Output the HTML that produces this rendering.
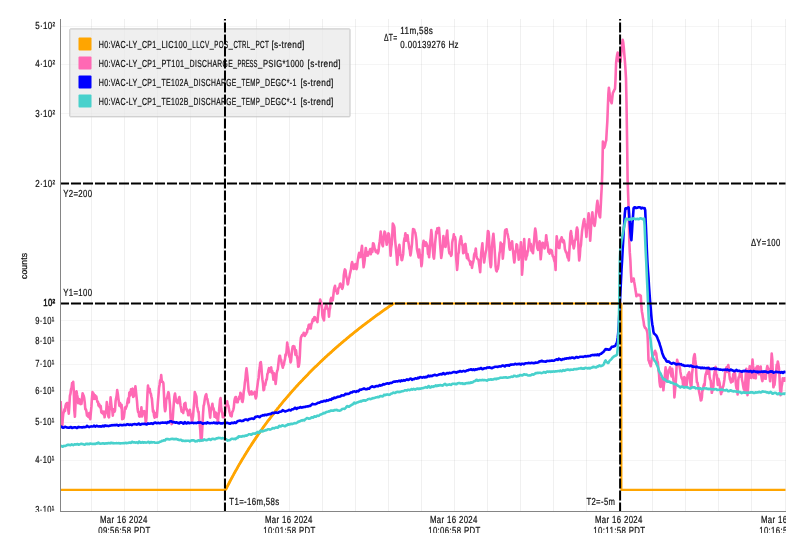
<!DOCTYPE html><html><head><meta charset="utf-8"><title>plot</title>
<style>html,body{margin:0;padding:0;background:#fff;overflow:hidden}svg{display:block}text{font-family:"Liberation Sans",sans-serif;fill:#111;text-rendering:geometricPrecision;stroke:#111;stroke-width:0.22px}</style></head><body>
<svg width="804" height="551" viewBox="0 0 804 551">
<defs><clipPath id="pc"><rect x="61.0" y="19.0" width="724.5" height="492.5"/></clipPath>
<clipPath id="wc"><rect x="0" y="0" width="785.6" height="532.6"/></clipPath><clipPath id="ytc"><rect x="0" y="0" width="60" height="511.8"/></clipPath></defs>
<rect width="804" height="551" fill="#fff"/>
<g clip-path="url(#wc)" style="will-change:transform">
<g stroke="#000" stroke-opacity="0.06" stroke-width="1" shape-rendering="crispEdges">
<line x1="91.5" y1="19.0" x2="91.5" y2="511.0"/>
<line x1="124.5" y1="19.0" x2="124.5" y2="511.0"/>
<line x1="157.5" y1="19.0" x2="157.5" y2="511.0"/>
<line x1="190.5" y1="19.0" x2="190.5" y2="511.0"/>
<line x1="223.5" y1="19.0" x2="223.5" y2="511.0"/>
<line x1="256.5" y1="19.0" x2="256.5" y2="511.0"/>
<line x1="289.5" y1="19.0" x2="289.5" y2="511.0"/>
<line x1="322.5" y1="19.0" x2="322.5" y2="511.0"/>
<line x1="355.5" y1="19.0" x2="355.5" y2="511.0"/>
<line x1="388.5" y1="19.0" x2="388.5" y2="511.0"/>
<line x1="421.5" y1="19.0" x2="421.5" y2="511.0"/>
<line x1="454.5" y1="19.0" x2="454.5" y2="511.0"/>
<line x1="487.5" y1="19.0" x2="487.5" y2="511.0"/>
<line x1="520.5" y1="19.0" x2="520.5" y2="511.0"/>
<line x1="553.5" y1="19.0" x2="553.5" y2="511.0"/>
<line x1="586.5" y1="19.0" x2="586.5" y2="511.0"/>
<line x1="619.5" y1="19.0" x2="619.5" y2="511.0"/>
<line x1="652.5" y1="19.0" x2="652.5" y2="511.0"/>
<line x1="685.5" y1="19.0" x2="685.5" y2="511.0"/>
<line x1="718.5" y1="19.0" x2="718.5" y2="511.0"/>
<line x1="751.5" y1="19.0" x2="751.5" y2="511.0"/>
<line x1="785.5" y1="19.0" x2="785.5" y2="511.0"/>
</g>
<g stroke="#000" stroke-opacity="0.04" stroke-width="1" shape-rendering="crispEdges">
<line x1="61.0" y1="26.5" x2="785.5" y2="26.5"/>
<line x1="61.0" y1="64.5" x2="785.5" y2="64.5"/>
<line x1="61.0" y1="113.5" x2="785.5" y2="113.5"/>
<line x1="61.0" y1="183.5" x2="785.5" y2="183.5"/>
<line x1="61.0" y1="303.5" x2="785.5" y2="303.5"/>
<line x1="61.0" y1="320.5" x2="785.5" y2="320.5"/>
<line x1="61.0" y1="340.5" x2="785.5" y2="340.5"/>
<line x1="61.0" y1="364.5" x2="785.5" y2="364.5"/>
<line x1="61.0" y1="390.5" x2="785.5" y2="390.5"/>
<line x1="61.0" y1="422.5" x2="785.5" y2="422.5"/>
<line x1="61.0" y1="460.5" x2="785.5" y2="460.5"/>
</g>
<g clip-path="url(#pc)" fill="none" stroke-width="2" stroke-linejoin="round" stroke-linecap="butt">
<path d="M60.0,489.9 L225.6,489.9 L225.6,489.9 L226.6,487.9 L227.6,485.9 L228.6,484.0 L229.6,482.0 L230.6,480.1 L231.6,478.3 L232.6,476.4 L233.6,474.6 L234.6,472.7 L235.6,470.9 L236.6,469.2 L237.6,467.4 L238.6,465.6 L239.6,463.9 L240.6,462.2 L241.6,460.5 L242.6,458.8 L243.6,457.2 L244.6,455.5 L245.6,453.9 L246.6,452.3 L247.6,450.7 L248.6,449.1 L249.6,447.5 L250.6,446.0 L251.6,444.4 L252.6,442.9 L253.6,441.4 L254.6,439.9 L255.6,438.4 L256.6,436.9 L257.6,435.4 L258.6,434.0 L259.6,432.6 L260.6,431.1 L261.6,429.7 L262.6,428.3 L263.6,426.9 L264.6,425.5 L265.6,424.2 L266.6,422.8 L267.6,421.4 L268.6,420.1 L269.6,418.8 L270.6,417.5 L271.6,416.2 L272.6,414.9 L273.6,413.6 L274.6,412.3 L275.6,411.0 L276.6,409.8 L277.6,408.5 L278.6,407.3 L279.6,406.0 L280.6,404.8 L281.6,403.6 L282.6,402.4 L283.6,401.2 L284.6,400.0 L285.6,398.8 L286.6,397.6 L287.6,396.5 L288.6,395.3 L289.6,394.2 L290.6,393.0 L291.6,391.9 L292.6,390.7 L293.6,389.6 L294.6,388.5 L295.6,387.4 L296.6,386.3 L297.6,385.2 L298.6,384.1 L299.6,383.1 L300.6,382.0 L301.6,380.9 L302.6,379.9 L303.6,378.8 L304.6,377.8 L305.6,376.7 L306.6,375.7 L307.6,374.7 L308.6,373.6 L309.6,372.6 L310.6,371.6 L311.6,370.6 L312.6,369.6 L313.6,368.6 L314.6,367.6 L315.6,366.6 L316.6,365.7 L317.6,364.7 L318.6,363.7 L319.6,362.8 L320.6,361.8 L321.6,360.9 L322.6,359.9 L323.6,359.0 L324.6,358.1 L325.6,357.1 L326.6,356.2 L327.6,355.3 L328.6,354.4 L329.6,353.5 L330.6,352.6 L331.6,351.7 L332.6,350.8 L333.6,349.9 L334.6,349.0 L335.6,348.1 L336.6,347.2 L337.6,346.4 L338.6,345.5 L339.6,344.6 L340.6,343.8 L341.6,342.9 L342.6,342.1 L343.6,341.2 L344.6,340.4 L345.6,339.6 L346.6,338.7 L347.6,337.9 L348.6,337.1 L349.6,336.2 L350.6,335.4 L351.6,334.6 L352.6,333.8 L353.6,333.0 L354.6,332.2 L355.6,331.4 L356.6,330.6 L357.6,329.8 L358.6,329.0 L359.6,328.2 L360.6,327.5 L361.6,326.7 L362.6,325.9 L363.6,325.1 L364.6,324.4 L365.6,323.6 L366.6,322.8 L367.6,322.1 L368.6,321.3 L369.6,320.6 L370.6,319.8 L371.6,319.1 L372.6,318.4 L373.6,317.6 L374.6,316.9 L375.6,316.2 L376.6,315.4 L377.6,314.7 L378.6,314.0 L379.6,313.3 L380.6,312.5 L381.6,311.8 L382.6,311.1 L383.6,310.4 L384.6,309.7 L385.6,309.0 L386.6,308.3 L387.6,307.6 L388.6,306.9 L389.6,306.2 L390.6,305.5 L391.6,304.9 L392.6,304.2 L393.6,303.5 L393.6,303.5 L621.4,303.5 L621.4,489.9 L787.0,489.9" stroke="#FFA500" stroke-width="2.1"/>
<path d="M225.6,489.9 L225.6,489.9 L226.6,487.9 L227.6,485.9 L228.6,484.0 L229.6,482.0 L230.6,480.1 L231.6,478.3 L232.6,476.4 L233.6,474.6 L234.6,472.7 L235.6,470.9 L236.6,469.2 L237.6,467.4 L238.6,465.6 L239.6,463.9 L240.6,462.2 L241.6,460.5 L242.6,458.8 L243.6,457.2 L244.6,455.5 L245.6,453.9 L246.6,452.3 L247.6,450.7 L248.6,449.1 L249.6,447.5 L250.6,446.0 L251.6,444.4 L252.6,442.9 L253.6,441.4 L254.6,439.9 L255.6,438.4 L256.6,436.9 L257.6,435.4 L258.6,434.0 L259.6,432.6 L260.6,431.1 L261.6,429.7 L262.6,428.3 L263.6,426.9 L264.6,425.5 L265.6,424.2 L266.6,422.8 L267.6,421.4 L268.6,420.1 L269.6,418.8 L270.6,417.5 L271.6,416.2 L272.6,414.9 L273.6,413.6 L274.6,412.3 L275.6,411.0 L276.6,409.8 L277.6,408.5 L278.6,407.3 L279.6,406.0 L280.6,404.8 L281.6,403.6 L282.6,402.4 L283.6,401.2 L284.6,400.0 L285.6,398.8 L286.6,397.6 L287.6,396.5 L288.6,395.3 L289.6,394.2 L290.6,393.0 L291.6,391.9 L292.6,390.7 L293.6,389.6 L294.6,388.5 L295.6,387.4 L296.6,386.3 L297.6,385.2 L298.6,384.1 L299.6,383.1 L300.6,382.0 L301.6,380.9 L302.6,379.9 L303.6,378.8 L304.6,377.8 L305.6,376.7 L306.6,375.7 L307.6,374.7 L308.6,373.6 L309.6,372.6 L310.6,371.6 L311.6,370.6 L312.6,369.6 L313.6,368.6 L314.6,367.6 L315.6,366.6 L316.6,365.7 L317.6,364.7 L318.6,363.7 L319.6,362.8 L320.6,361.8 L321.6,360.9 L322.6,359.9 L323.6,359.0 L324.6,358.1 L325.6,357.1 L326.6,356.2 L327.6,355.3 L328.6,354.4 L329.6,353.5 L330.6,352.6 L331.6,351.7 L332.6,350.8 L333.6,349.9 L334.6,349.0 L335.6,348.1 L336.6,347.2 L337.6,346.4 L338.6,345.5 L339.6,344.6 L340.6,343.8 L341.6,342.9 L342.6,342.1 L343.6,341.2 L344.6,340.4 L345.6,339.6 L346.6,338.7 L347.6,337.9 L348.6,337.1 L349.6,336.2 L350.6,335.4 L351.6,334.6 L352.6,333.8 L353.6,333.0 L354.6,332.2 L355.6,331.4 L356.6,330.6 L357.6,329.8 L358.6,329.0 L359.6,328.2 L360.6,327.5 L361.6,326.7 L362.6,325.9 L363.6,325.1 L364.6,324.4 L365.6,323.6 L366.6,322.8 L367.6,322.1 L368.6,321.3 L369.6,320.6 L370.6,319.8 L371.6,319.1 L372.6,318.4 L373.6,317.6 L374.6,316.9 L375.6,316.2 L376.6,315.4 L377.6,314.7 L378.6,314.0 L379.6,313.3 L380.6,312.5 L381.6,311.8 L382.6,311.1 L383.6,310.4 L384.6,309.7 L385.6,309.0 L386.6,308.3 L387.6,307.6 L388.6,306.9 L389.6,306.2 L390.6,305.5 L391.6,304.9 L392.6,304.2 L393.6,303.5 L393.6,303.5" stroke="#FFA500" stroke-width="2.8"/>
<path d="M60.6,401.1 L61.1,409.7 L61.7,421.1 L62.2,426.6 L62.8,418.3 L63.3,413.4 L63.9,412.2 L64.4,409.4 L65.0,410.8 L65.5,405.8 L66.1,404.0 L66.6,403.5 L67.2,402.9 L67.7,405.8 L68.3,410.1 L68.8,413.7 L69.4,404.8 L69.9,395.8 L70.5,393.6 L71.0,389.5 L71.6,387.6 L72.1,383.1 L72.7,383.7 L73.2,381.8 L73.8,391.3 L74.3,410.2 L74.9,416.8 L75.4,406.7 L76.0,392.7 L76.5,391.3 L77.1,395.0 L77.6,397.3 L78.2,403.1 L78.7,399.8 L79.3,399.2 L79.8,403.3 L80.4,404.0 L80.9,403.3 L81.5,403.9 L82.0,398.5 L82.6,393.4 L83.1,394.5 L83.7,395.9 L84.2,398.1 L84.8,403.0 L85.3,409.2 L85.9,409.2 L86.4,411.2 L87.0,415.5 L87.5,415.7 L88.1,416.6 L88.6,417.1 L89.2,413.1 L89.7,416.2 L90.3,419.2 L90.8,413.1 L91.4,406.7 L91.9,398.9 L92.5,392.1 L93.0,395.2 L93.6,393.5 L94.1,398.9 L94.7,395.0 L95.2,395.4 L95.8,398.7 L96.3,396.5 L96.9,399.8 L97.4,402.0 L98.0,401.9 L98.5,405.6 L99.1,403.9 L99.6,406.7 L100.2,407.5 L100.7,405.9 L101.3,412.0 L101.8,412.9 L102.4,411.4 L102.9,413.3 L103.5,414.1 L104.0,411.5 L104.6,417.3 L105.1,413.5 L105.7,412.5 L106.2,411.3 L106.8,402.1 L107.3,406.1 L107.9,414.0 L108.4,416.6 L109.0,417.3 L109.5,409.8 L110.1,405.2 L110.6,397.4 L111.2,403.4 L111.7,408.1 L112.3,410.5 L112.8,415.7 L113.4,409.4 L113.9,411.8 L114.5,411.7 L115.0,410.5 L115.6,401.1 L116.1,398.6 L116.7,395.1 L117.2,390.1 L117.8,393.7 L118.3,397.9 L118.9,402.2 L119.4,405.8 L120.0,402.9 L120.5,405.1 L121.1,407.6 L121.6,404.8 L122.2,419.2 L122.7,417.7 L123.3,418.6 L123.8,417.7 L124.4,412.8 L124.9,407.6 L125.5,409.1 L126.0,407.5 L126.6,406.3 L127.1,404.2 L127.7,400.4 L128.2,398.2 L128.8,402.4 L129.3,392.9 L129.9,392.1 L130.4,395.4 L131.0,389.2 L131.5,392.7 L132.1,389.9 L132.6,388.7 L133.2,396.9 L133.7,396.3 L134.3,394.4 L134.8,392.6 L135.4,386.3 L135.9,390.9 L136.5,396.7 L137.0,401.2 L137.6,409.1 L138.1,411.9 L138.7,412.1 L139.2,416.3 L139.8,416.6 L140.3,413.2 L140.9,412.1 L141.4,407.3 L142.0,416.4 L142.5,414.1 L143.1,411.9 L143.6,412.6 L144.2,411.1 L144.7,412.2 L145.3,417.5 L145.8,423.2 L146.4,418.6 L146.9,406.6 L147.5,393.1 L148.0,385.6 L148.6,390.7 L149.1,389.4 L149.7,388.9 L150.2,392.7 L150.8,393.6 L151.3,396.2 L151.9,398.9 L152.4,404.8 L153.0,411.7 L153.5,410.4 L154.1,416.0 L154.6,417.7 L155.2,413.1 L155.7,415.5 L156.3,414.2 L156.8,417.0 L157.4,409.1 L157.9,402.0 L158.5,394.9 L159.0,388.1 L159.6,384.5 L160.1,380.3 L160.7,380.8 L161.2,375.1 L161.8,381.6 L162.3,381.6 L162.9,382.1 L163.4,383.3 L164.0,395.0 L164.5,406.4 L165.1,411.3 L165.6,409.1 L166.2,400.2 L166.7,398.5 L167.3,397.0 L167.8,394.5 L168.4,392.2 L168.9,394.1 L169.5,400.1 L170.0,405.2 L170.6,418.1 L171.1,421.6 L171.7,424.1 L172.2,423.3 L172.8,417.6 L173.3,409.7 L173.9,402.1 L174.4,396.6 L175.0,393.5 L175.5,397.0 L176.1,401.3 L176.6,401.4 L177.2,402.7 L177.7,403.1 L178.3,400.3 L178.8,398.5 L179.4,397.0 L179.9,400.4 L180.5,405.7 L181.0,407.8 L181.6,411.6 L182.1,410.8 L182.7,410.7 L183.2,413.1 L183.8,409.0 L184.3,404.0 L184.9,403.1 L185.4,402.9 L186.0,409.1 L186.5,408.7 L187.1,410.9 L187.6,411.1 L188.2,415.3 L188.7,411.7 L189.3,411.1 L189.8,409.8 L190.4,413.6 L190.9,416.0 L191.5,417.8 L192.0,422.2 L192.6,418.8 L193.1,415.7 L193.7,407.5 L194.2,402.0 L194.8,392.1 L195.3,393.8 L195.9,395.2 L196.4,396.9 L197.0,406.8 L197.5,408.0 L198.1,411.9 L198.6,411.8 L199.2,419.9 L199.7,423.9 L200.3,430.5 L200.8,440.1 L201.4,440.7 L201.9,436.2 L202.5,424.3 L203.0,414.5 L203.6,405.8 L204.1,404.5 L204.7,399.9 L205.2,396.9 L205.8,394.9 L206.3,394.2 L206.9,398.9 L207.4,399.0 L208.0,402.6 L208.5,404.6 L209.1,408.0 L209.6,412.4 L210.2,417.6 L210.7,411.2 L211.3,409.5 L211.8,407.0 L212.4,403.7 L212.9,408.0 L213.5,408.2 L214.0,410.5 L214.6,416.8 L215.1,416.5 L215.7,412.5 L216.2,417.6 L216.8,413.5 L217.3,417.4 L217.9,421.9 L218.4,416.4 L219.0,411.2 L219.5,405.8 L220.1,399.6 L220.6,398.1 L221.2,408.3 L221.7,411.5 L222.3,412.9 L222.8,417.3 L223.4,414.8 L223.9,417.1 L224.5,414.0 L225.0,413.1 L225.6,407.3 L226.1,404.6 L226.7,404.4 L227.2,401.4 L227.8,405.2 L228.3,405.6 L228.9,408.6 L229.4,411.5 L230.0,413.5 L230.5,415.8 L231.1,415.0 L231.6,416.3 L232.2,411.9 L232.7,411.5 L233.3,409.6 L233.8,407.5 L234.4,401.0 L234.9,398.4 L235.5,397.0 L236.0,397.0 L236.6,402.1 L237.1,401.8 L237.7,402.2 L238.2,399.1 L238.8,399.3 L239.3,396.5 L239.9,398.2 L240.4,392.7 L241.0,394.3 L241.5,396.3 L242.1,401.5 L242.6,401.9 L243.2,398.2 L243.7,391.8 L244.3,388.5 L244.8,383.0 L245.4,379.3 L245.9,373.1 L246.5,368.3 L247.0,372.3 L247.6,378.0 L248.1,384.7 L248.7,391.4 L249.2,392.7 L249.8,394.6 L250.3,392.1 L250.9,392.1 L251.4,391.3 L252.0,394.4 L252.5,392.7 L253.1,393.9 L253.6,392.9 L254.2,393.6 L254.7,391.9 L255.3,396.5 L255.8,398.5 L256.4,396.1 L256.9,389.6 L257.5,385.3 L258.0,381.2 L258.6,377.9 L259.1,371.2 L259.7,368.1 L260.2,362.8 L260.8,362.1 L261.3,366.0 L261.9,374.3 L262.4,379.4 L263.0,383.2 L263.5,390.2 L264.1,389.7 L264.6,384.2 L265.2,385.2 L265.7,382.7 L266.3,379.6 L266.8,379.6 L267.4,374.0 L267.9,373.3 L268.5,369.8 L269.0,368.2 L269.6,371.6 L270.1,371.5 L270.7,368.4 L271.2,367.4 L271.8,372.8 L272.3,370.9 L272.9,374.9 L273.4,379.7 L274.0,373.4 L274.5,377.8 L275.1,378.8 L275.6,384.0 L276.2,378.9 L276.7,373.0 L277.3,370.6 L277.8,369.4 L278.4,363.8 L278.9,359.1 L279.5,355.7 L280.0,355.7 L280.6,359.6 L281.1,359.7 L281.7,363.8 L282.2,365.4 L282.8,367.7 L283.3,365.4 L283.9,364.6 L284.4,361.4 L285.0,359.2 L285.5,354.5 L286.1,355.2 L286.6,350.6 L287.2,342.6 L287.7,345.8 L288.3,348.3 L288.8,351.6 L289.4,356.9 L289.9,357.0 L290.5,362.4 L291.0,361.3 L291.6,354.8 L292.1,350.2 L292.7,346.7 L293.2,346.1 L293.8,347.6 L294.3,346.5 L294.9,349.4 L295.4,354.6 L296.0,350.3 L296.5,354.5 L297.1,356.9 L297.6,359.6 L298.2,366.7 L298.7,366.6 L299.3,363.1 L299.8,356.4 L300.4,342.8 L300.9,337.7 L301.5,336.3 L302.0,335.2 L302.6,335.5 L303.1,335.1 L303.7,332.8 L304.2,334.9 L304.8,335.8 L305.3,334.9 L305.9,334.2 L306.4,332.8 L307.0,332.3 L307.5,329.0 L308.1,329.2 L308.6,325.4 L309.2,324.6 L309.7,325.0 L310.3,328.3 L310.8,328.4 L311.4,323.9 L311.9,323.3 L312.5,320.3 L313.0,319.0 L313.6,320.8 L314.1,317.4 L314.7,317.0 L315.2,317.9 L315.8,319.8 L316.3,320.2 L316.9,320.8 L317.4,322.1 L318.0,315.7 L318.5,311.1 L319.1,306.0 L319.6,304.5 L320.2,299.6 L320.7,301.3 L321.3,302.6 L321.8,304.1 L322.4,315.3 L322.9,317.8 L323.5,319.1 L324.0,320.4 L324.6,310.1 L325.1,308.9 L325.7,306.6 L326.2,304.8 L326.8,306.5 L327.3,308.0 L327.9,309.5 L328.4,309.8 L329.0,316.6 L329.5,310.5 L330.1,307.9 L330.6,299.6 L331.2,297.9 L331.7,298.5 L332.3,300.5 L332.8,300.0 L333.4,294.7 L333.9,290.3 L334.5,287.3 L335.0,285.8 L335.6,290.1 L336.1,291.1 L336.7,291.7 L337.2,293.6 L337.8,293.3 L338.3,288.5 L338.9,287.6 L339.4,287.3 L340.0,283.8 L340.5,283.5 L341.1,285.7 L341.6,284.9 L342.2,288.9 L342.7,287.5 L343.3,283.7 L343.8,275.2 L344.4,271.4 L344.9,269.4 L345.5,270.4 L346.0,275.4 L346.6,277.7 L347.1,279.3 L347.7,284.4 L348.2,283.2 L348.8,278.5 L349.3,277.9 L349.9,273.9 L350.4,271.9 L351.0,269.3 L351.5,264.3 L352.1,262.0 L352.6,263.8 L353.2,267.1 L353.7,268.9 L354.3,267.0 L354.8,268.5 L355.4,264.1 L355.9,268.6 L356.5,269.1 L357.0,267.6 L357.6,261.5 L358.1,258.4 L358.7,254.7 L359.2,252.9 L359.8,257.2 L360.3,257.1 L360.9,253.4 L361.4,249.7 L362.0,245.7 L362.5,254.7 L363.1,260.7 L363.6,267.3 L364.2,264.1 L364.7,260.3 L365.3,252.2 L365.8,248.0 L366.4,252.3 L366.9,255.6 L367.5,255.2 L368.0,255.5 L368.6,252.1 L369.1,253.2 L369.7,250.9 L370.2,249.1 L370.8,254.3 L371.3,250.2 L371.9,248.6 L372.4,251.9 L373.0,243.3 L373.5,243.4 L374.1,245.4 L374.6,248.4 L375.2,249.6 L375.7,251.7 L376.3,252.2 L376.8,251.9 L377.4,250.7 L377.9,253.5 L378.5,251.5 L379.0,245.9 L379.6,242.0 L380.1,238.1 L380.7,231.6 L381.2,236.1 L381.8,239.6 L382.3,244.8 L382.9,246.2 L383.4,240.9 L384.0,235.2 L384.5,231.6 L385.1,232.7 L385.6,235.1 L386.2,240.9 L386.7,244.8 L387.3,241.7 L387.8,240.2 L388.4,233.4 L388.9,234.0 L389.5,239.5 L390.0,245.0 L390.6,255.7 L391.1,248.2 L391.7,244.3 L392.2,236.6 L392.8,223.6 L393.3,224.5 L393.9,225.7 L394.4,227.3 L395.0,238.8 L395.5,244.2 L396.1,250.0 L396.6,255.7 L397.2,264.6 L397.7,259.0 L398.3,253.5 L398.8,247.6 L399.4,244.8 L399.9,249.7 L400.5,255.0 L401.0,255.1 L401.6,260.2 L402.1,260.0 L402.7,256.7 L403.2,253.9 L403.8,242.4 L404.3,239.1 L404.9,237.0 L405.4,233.2 L406.0,240.6 L406.5,238.3 L407.1,236.6 L407.6,235.3 L408.2,240.9 L408.7,243.7 L409.3,248.3 L409.8,250.1 L410.4,255.4 L410.9,253.1 L411.5,248.0 L412.0,243.8 L412.6,233.9 L413.1,229.0 L413.7,230.2 L414.2,229.5 L414.8,232.1 L415.3,232.6 L415.9,236.4 L416.4,240.3 L417.0,249.3 L417.5,251.7 L418.1,254.4 L418.6,257.4 L419.2,249.5 L419.7,254.2 L420.3,255.1 L420.8,257.4 L421.4,266.2 L421.9,263.7 L422.5,255.1 L423.0,244.6 L423.6,240.8 L424.1,243.5 L424.7,242.9 L425.2,245.9 L425.8,242.2 L426.3,243.1 L426.9,244.6 L427.4,246.0 L428.0,254.0 L428.5,253.3 L429.1,257.3 L429.6,251.3 L430.2,241.4 L430.7,237.6 L431.3,230.1 L431.8,234.8 L432.4,244.3 L432.9,249.7 L433.5,257.1 L434.0,258.6 L434.6,252.0 L435.1,243.3 L435.7,237.4 L436.2,231.6 L436.8,233.4 L437.3,228.3 L437.9,231.0 L438.4,229.4 L439.0,227.9 L439.5,234.6 L440.1,244.1 L440.6,250.3 L441.2,258.0 L441.7,255.0 L442.3,249.7 L442.8,246.4 L443.4,236.1 L443.9,239.6 L444.5,243.6 L445.0,246.5 L445.6,246.9 L446.1,238.8 L446.7,234.4 L447.2,230.5 L447.8,239.5 L448.3,242.9 L448.9,250.4 L449.4,253.4 L450.0,253.5 L450.5,253.6 L451.1,255.8 L451.6,254.7 L452.2,242.7 L452.7,240.0 L453.3,238.2 L453.8,234.3 L454.4,238.9 L454.9,236.9 L455.5,239.5 L456.0,255.6 L456.6,263.2 L457.1,269.9 L457.7,263.5 L458.2,254.4 L458.8,252.4 L459.3,245.4 L459.9,241.2 L460.4,238.7 L461.0,236.3 L461.5,240.8 L462.1,244.6 L462.6,245.5 L463.2,253.1 L463.7,252.8 L464.3,251.2 L464.8,244.4 L465.4,243.8 L465.9,247.6 L466.5,255.1 L467.0,258.2 L467.6,254.1 L468.1,257.0 L468.7,260.1 L469.2,260.6 L469.8,260.9 L470.3,264.6 L470.9,261.8 L471.4,262.5 L472.0,267.9 L472.5,264.3 L473.1,262.3 L473.6,259.9 L474.2,254.4 L474.7,253.5 L475.3,251.5 L475.8,248.5 L476.4,255.4 L476.9,257.9 L477.5,258.9 L478.0,259.3 L478.6,260.3 L479.1,264.2 L479.7,268.3 L480.2,272.3 L480.8,259.9 L481.3,252.6 L481.9,247.3 L482.4,243.3 L483.0,254.8 L483.5,255.0 L484.1,262.5 L484.6,259.3 L485.2,255.1 L485.7,252.1 L486.3,249.9 L486.8,245.0 L487.4,237.6 L487.9,231.0 L488.5,231.6 L489.0,236.5 L489.6,256.6 L490.1,262.2 L490.7,267.2 L491.2,264.8 L491.8,247.9 L492.3,243.2 L492.9,237.4 L493.4,233.7 L494.0,240.8 L494.5,247.2 L495.1,257.5 L495.6,266.2 L496.2,270.5 L496.7,271.3 L497.3,269.2 L497.8,269.0 L498.4,265.3 L498.9,259.3 L499.5,253.1 L500.0,251.2 L500.6,242.5 L501.1,244.5 L501.7,243.9 L502.2,247.1 L502.8,258.7 L503.3,253.6 L503.9,246.2 L504.4,241.5 L505.0,231.2 L505.5,229.8 L506.1,231.3 L506.6,229.2 L507.2,232.5 L507.7,234.5 L508.3,237.5 L508.8,239.6 L509.4,247.5 L509.9,249.7 L510.5,246.7 L511.0,243.1 L511.6,243.9 L512.1,241.2 L512.7,249.0 L513.2,252.3 L513.8,258.7 L514.3,262.5 L514.9,258.0 L515.4,251.3 L516.0,250.4 L516.5,244.4 L517.1,244.8 L517.6,250.6 L518.2,253.4 L518.7,259.7 L519.3,256.5 L519.8,250.9 L520.4,249.2 L520.9,242.2 L521.5,252.5 L522.0,274.6 L522.6,267.4 L523.1,256.3 L523.7,248.3 L524.2,239.1 L524.8,250.4 L525.3,250.7 L525.9,259.4 L526.4,256.7 L527.0,255.7 L527.5,252.4 L528.1,250.7 L528.6,245.4 L529.2,239.3 L529.7,244.7 L530.3,244.9 L530.8,244.0 L531.4,250.7 L531.9,249.4 L532.5,252.1 L533.0,253.2 L533.6,245.6 L534.1,241.1 L534.7,233.1 L535.2,228.6 L535.8,231.7 L536.3,237.4 L536.9,245.2 L537.4,248.3 L538.0,249.8 L538.5,247.7 L539.1,243.6 L539.6,241.3 L540.2,251.8 L540.7,259.3 L541.3,252.8 L541.8,245.4 L542.4,242.9 L542.9,242.9 L543.5,243.6 L544.0,247.0 L544.6,248.4 L545.1,245.8 L545.7,241.5 L546.2,235.2 L546.8,240.5 L547.3,242.5 L547.9,246.9 L548.4,251.9 L549.0,249.5 L549.5,253.7 L550.1,251.8 L550.6,249.7 L551.2,251.0 L551.7,250.4 L552.3,253.9 L552.8,256.3 L553.4,256.8 L553.9,259.1 L554.5,261.5 L555.0,262.1 L555.6,269.9 L556.1,250.1 L556.7,236.3 L557.2,240.4 L557.8,242.8 L558.3,242.9 L558.9,248.0 L559.4,248.0 L560.0,242.0 L560.5,239.9 L561.1,239.0 L561.6,237.3 L562.2,239.0 L562.7,242.1 L563.3,240.3 L563.8,240.5 L564.4,243.8 L564.9,249.1 L565.5,250.9 L566.0,252.4 L566.6,252.6 L567.1,255.3 L567.7,257.8 L568.2,256.9 L568.8,260.5 L569.3,252.1 L569.9,242.3 L570.4,233.5 L571.0,231.1 L571.5,234.9 L572.1,238.5 L572.6,244.4 L573.2,245.1 L573.7,248.4 L574.3,246.1 L574.8,240.6 L575.4,240.1 L575.9,237.6 L576.5,230.2 L577.0,227.5 L577.6,229.9 L578.1,239.2 L578.7,252.7 L579.2,260.5 L579.8,256.0 L580.3,247.9 L580.9,245.3 L581.4,239.0 L582.0,231.5 L582.5,228.3 L583.1,224.1 L583.6,221.1 L584.2,219.0 L584.7,222.4 L585.3,225.8 L585.8,229.5 L586.4,236.9 L586.9,228.9 L587.5,225.9 L588.0,219.9 L588.6,213.3 L589.1,221.2 L589.7,229.2 L590.2,240.6 L590.8,231.7 L591.3,222.7 L591.9,215.1 L592.4,212.3 L593.0,219.9 L593.5,221.1 L594.1,224.5 L594.6,225.9 L595.2,222.0 L595.7,216.5 L596.3,211.1 L596.8,205.3 L597.4,200.8 L597.9,204.6 L598.5,208.9 L599.0,213.5 L599.6,216.6 L600.1,217.4 L600.7,207.0 L601.2,196.6 L601.8,185.7 L602.3,171.3 L602.9,141.6 L603.4,145.4 L604.0,148.0 L604.5,147.0 L605.1,144.8 L605.6,142.2 L606.2,140.4 L606.7,131.5 L607.3,121.9 L607.8,108.7 L608.4,93.5 L608.9,87.7 L609.5,92.7 L610.0,97.4 L610.6,100.7 L611.1,101.7 L611.7,103.2 L612.2,98.7 L612.8,93.1 L613.3,92.1 L613.9,90.9 L614.4,89.7 L615.0,89.0 L615.5,79.8 L616.1,63.0 L616.6,58.6 L617.2,54.5 L617.7,52.6 L618.3,57.4 L618.8,61.1 L619.4,61.2 L619.9,61.8 L620.5,61.9 L621.0,55.3 L621.6,49.5 L622.1,44.7 L622.7,39.9 L623.2,42.2 L623.8,47.8 L624.3,54.2 L624.9,61.2 L625.4,68.2 L626.0,78.3 L626.5,102.8 L627.1,141.3 L627.6,179.3 L628.2,196.5 L628.7,211.3 L629.3,241.4 L629.8,252.4 L630.4,260.6 L630.9,272.3 L631.5,281.7 L632.0,280.8 L632.6,279.8 L633.1,278.8 L633.7,278.6 L634.2,282.0 L634.8,285.5 L635.3,289.1 L635.9,292.5 L636.4,296.3 L637.0,295.3 L637.5,294.9 L638.1,294.9 L638.6,294.7 L639.2,295.4 L639.7,295.0 L640.3,295.3 L640.8,295.9 L641.4,306.7 L641.9,311.5 L642.5,314.8 L643.0,318.6 L643.6,321.5 L644.1,325.5 L644.7,327.1 L645.2,328.0 L645.8,328.2 L646.3,329.0 L646.9,330.7 L647.4,333.3 L648.0,344.1 L648.5,360.2 L649.1,361.4 L649.6,363.4 L650.2,364.3 L650.7,366.2 L651.3,362.5 L651.8,358.2 L652.4,356.3 L652.9,354.9 L653.5,355.2 L654.0,353.6 L654.6,352.1 L655.1,350.8 L655.7,352.7 L656.2,353.3 L656.8,358.7 L657.3,360.6 L657.9,362.6 L658.4,369.5 L659.0,373.8 L659.5,381.5 L660.1,385.8 L660.6,386.8 L661.2,377.9 L661.7,378.9 L662.3,377.7 L662.8,381.5 L663.4,390.3 L663.9,384.5 L664.5,381.5 L665.0,374.2 L665.6,367.3 L666.1,371.5 L666.7,376.2 L667.2,381.7 L667.8,374.6 L668.3,372.7 L668.9,369.7 L669.4,369.5 L670.0,367.3 L670.5,370.4 L671.1,374.4 L671.6,376.5 L672.2,368.8 L672.7,372.9 L673.3,379.2 L673.8,381.9 L674.4,397.4 L674.9,392.1 L675.5,385.6 L676.0,378.6 L676.6,366.1 L677.1,359.8 L677.7,362.1 L678.2,364.0 L678.8,363.3 L679.3,365.3 L679.9,368.2 L680.4,371.9 L681.0,375.2 L681.5,377.6 L682.1,378.9 L682.6,380.4 L683.2,386.1 L683.7,379.8 L684.3,377.1 L684.8,377.6 L685.4,384.1 L685.9,386.1 L686.5,386.2 L687.0,382.2 L687.6,374.8 L688.1,374.8 L688.7,373.0 L689.2,372.2 L689.8,377.7 L690.3,382.3 L690.9,387.0 L691.4,386.5 L692.0,374.1 L692.5,370.0 L693.1,365.3 L693.6,358.2 L694.2,355.2 L694.7,354.1 L695.3,359.9 L695.8,363.8 L696.4,375.5 L696.9,382.1 L697.5,382.7 L698.0,385.5 L698.6,388.1 L699.1,391.8 L699.7,394.4 L700.2,396.8 L700.8,400.5 L701.3,400.2 L701.9,397.2 L702.4,389.6 L703.0,390.1 L703.5,386.2 L704.1,384.2 L704.6,385.3 L705.2,377.3 L705.7,374.2 L706.3,372.9 L706.8,370.5 L707.4,373.6 L707.9,369.4 L708.5,369.0 L709.0,367.6 L709.6,377.0 L710.1,379.3 L710.7,380.3 L711.2,386.3 L711.8,392.8 L712.3,391.0 L712.9,389.9 L713.4,386.2 L714.0,375.5 L714.5,373.1 L715.1,367.7 L715.6,366.9 L716.2,374.3 L716.7,374.9 L717.3,379.8 L717.8,385.0 L718.4,378.7 L718.9,380.7 L719.5,382.7 L720.0,386.4 L720.6,391.8 L721.1,394.1 L721.7,390.1 L722.2,391.7 L722.8,386.6 L723.3,386.3 L723.9,382.8 L724.4,379.7 L725.0,373.1 L725.5,370.1 L726.1,368.4 L726.6,367.2 L727.2,371.9 L727.7,368.4 L728.3,365.1 L728.8,368.3 L729.4,375.2 L729.9,379.0 L730.5,380.4 L731.0,382.4 L731.6,378.8 L732.1,381.0 L732.7,381.5 L733.2,374.2 L733.8,375.5 L734.3,371.8 L734.9,371.9 L735.4,377.7 L736.0,385.2 L736.5,388.4 L737.1,389.0 L737.6,394.5 L738.2,380.2 L738.7,377.3 L739.3,377.1 L739.8,373.7 L740.4,373.0 L740.9,375.3 L741.5,373.3 L742.0,379.8 L742.6,382.3 L743.1,385.6 L743.7,388.8 L744.2,389.4 L744.8,391.2 L745.3,382.6 L745.9,372.4 L746.4,368.8 L747.0,385.0 L747.5,395.1 L748.1,387.4 L748.6,379.7 L749.2,370.4 L749.7,366.4 L750.3,371.7 L750.8,377.6 L751.4,378.0 L751.9,369.7 L752.5,359.5 L753.0,365.4 L753.6,371.0 L754.1,377.9 L754.7,374.2 L755.2,368.9 L755.8,378.3 L756.3,369.6 L756.9,366.5 L757.4,372.7 L758.0,366.3 L758.5,372.9 L759.1,374.3 L759.6,372.0 L760.2,367.9 L760.7,366.5 L761.3,375.6 L761.8,379.0 L762.4,381.1 L762.9,377.2 L763.5,372.2 L764.0,372.4 L764.6,375.2 L765.1,378.8 L765.7,378.8 L766.2,372.7 L766.8,369.0 L767.3,366.1 L767.9,368.4 L768.4,370.7 L769.0,369.0 L769.5,376.0 L770.1,381.3 L770.6,373.6 L771.2,363.1 L771.7,353.6 L772.3,359.6 L772.8,373.3 L773.4,387.3 L773.9,385.4 L774.5,384.9 L775.0,380.1 L775.6,373.7 L776.1,371.5 L776.7,364.8 L777.2,366.7 L777.8,361.5 L778.3,363.7 L778.9,367.7 L779.4,375.0 L780.0,387.7 L780.5,395.1 L781.1,392.8 L781.6,386.4 L782.2,383.4 L782.7,378.4 L783.3,378.7 L783.8,380.6 L784.4,378.2 L784.9,380.8 L785.5,378.2 L786.0,379.1" stroke="#FF69B4" stroke-width="2.6"/>
<path d="M60.0,427.5 L60.5,427.3 L61.1,426.8 L61.6,426.6 L62.2,427.2 L62.7,427.7 L63.3,427.8 L63.8,427.6 L64.4,427.2 L64.9,426.9 L65.5,426.9 L66.0,427.1 L66.6,427.5 L67.1,427.6 L67.7,427.5 L68.2,427.6 L68.8,427.7 L69.3,427.6 L69.9,427.5 L70.4,427.1 L71.0,427.0 L71.5,427.5 L72.1,428.0 L72.6,427.8 L73.2,427.5 L73.7,427.4 L74.3,427.4 L74.8,427.3 L75.4,427.2 L75.9,427.5 L76.5,428.0 L77.0,428.0 L77.6,427.7 L78.1,427.1 L78.7,426.9 L79.2,427.2 L79.8,427.3 L80.3,427.3 L80.9,427.3 L81.4,427.3 L82.0,427.5 L82.5,427.4 L83.1,427.0 L83.6,427.0 L84.2,427.2 L84.7,427.2 L85.3,427.0 L85.8,427.0 L86.4,426.7 L86.9,425.9 L87.5,426.0 L88.0,426.6 L88.6,426.9 L89.1,427.1 L89.7,426.8 L90.2,426.5 L90.8,426.5 L91.3,426.5 L91.9,426.4 L92.4,426.5 L93.0,426.4 L93.5,426.1 L94.1,425.7 L94.6,426.1 L95.2,426.7 L95.7,426.4 L96.3,425.9 L96.8,425.9 L97.4,426.0 L97.9,426.3 L98.5,426.5 L99.0,426.5 L99.6,426.4 L100.1,426.2 L100.7,426.3 L101.2,426.6 L101.8,426.4 L102.3,426.0 L102.9,425.7 L103.4,426.0 L104.0,426.4 L104.5,426.1 L105.1,425.4 L105.6,425.6 L106.2,425.9 L106.7,425.8 L107.3,425.8 L107.8,425.9 L108.4,426.1 L108.9,425.9 L109.5,425.7 L110.0,425.6 L110.6,425.6 L111.1,425.5 L111.7,425.2 L112.2,425.1 L112.8,425.4 L113.3,425.2 L113.9,425.1 L114.4,425.1 L115.0,425.1 L115.5,425.1 L116.1,425.1 L116.6,424.9 L117.2,424.9 L117.7,425.4 L118.3,425.7 L118.8,425.5 L119.4,425.1 L119.9,424.9 L120.5,425.0 L121.0,425.1 L121.6,425.1 L122.1,425.2 L122.7,425.2 L123.2,425.0 L123.8,424.8 L124.3,424.8 L124.9,425.0 L125.4,425.1 L126.0,424.9 L126.5,424.5 L127.1,424.4 L127.6,424.4 L128.2,424.3 L128.7,424.8 L129.3,424.9 L129.8,424.6 L130.4,424.5 L130.9,424.7 L131.5,424.8 L132.0,425.1 L132.6,424.6 L133.1,424.2 L133.7,424.3 L134.2,424.3 L134.8,424.1 L135.3,424.2 L135.9,424.3 L136.4,424.5 L137.0,424.6 L137.5,424.4 L138.1,423.9 L138.6,423.6 L139.2,423.8 L139.7,424.3 L140.3,424.7 L140.8,424.6 L141.4,424.0 L141.9,423.9 L142.5,424.0 L143.0,423.9 L143.6,424.0 L144.1,423.9 L144.7,423.8 L145.2,423.8 L145.8,424.1 L146.3,424.5 L146.9,424.4 L147.4,423.8 L148.0,423.4 L148.5,423.5 L149.1,423.7 L149.6,423.8 L150.2,423.7 L150.7,423.4 L151.3,423.2 L151.8,423.3 L152.4,423.8 L152.9,423.9 L153.5,423.5 L154.0,423.1 L154.6,422.7 L155.1,422.6 L155.7,422.8 L156.2,423.0 L156.8,423.3 L157.3,423.1 L157.9,422.8 L158.4,422.8 L159.0,423.0 L159.5,423.3 L160.1,423.3 L160.6,422.9 L161.2,422.8 L161.7,422.7 L162.3,422.6 L162.8,422.6 L163.4,422.8 L163.9,422.8 L164.5,422.7 L165.0,422.6 L165.6,422.5 L166.1,422.7 L166.7,423.1 L167.2,422.5 L167.8,422.1 L168.3,422.5 L168.9,422.5 L169.4,421.8 L170.0,421.2 L170.5,421.2 L171.1,421.3 L171.6,421.5 L172.2,421.8 L172.7,422.2 L173.3,422.2 L173.8,422.0 L174.4,422.2 L174.9,422.6 L175.5,422.6 L176.0,422.3 L176.6,422.2 L177.1,422.7 L177.7,422.9 L178.2,422.9 L178.8,423.3 L179.3,423.4 L179.9,422.7 L180.4,422.2 L181.0,422.3 L181.5,422.7 L182.1,422.7 L182.6,422.8 L183.2,423.6 L183.7,423.7 L184.3,422.7 L184.8,422.2 L185.4,422.6 L185.9,423.2 L186.5,423.4 L187.0,423.3 L187.6,422.7 L188.1,422.4 L188.7,422.9 L189.2,423.2 L189.8,423.0 L190.3,423.0 L190.9,423.0 L191.4,422.8 L192.0,422.7 L192.5,422.7 L193.1,422.8 L193.6,423.1 L194.2,423.0 L194.7,422.9 L195.3,422.9 L195.8,423.0 L196.4,423.1 L196.9,423.0 L197.5,422.6 L198.0,422.4 L198.6,422.7 L199.1,422.7 L199.7,422.5 L200.2,422.4 L200.8,422.5 L201.3,422.8 L201.9,423.0 L202.4,423.4 L203.0,423.8 L203.5,423.5 L204.1,423.3 L204.6,423.3 L205.2,423.0 L205.7,423.0 L206.3,423.4 L206.8,423.1 L207.4,422.4 L207.9,422.6 L208.5,422.9 L209.0,423.0 L209.6,423.3 L210.1,423.2 L210.7,423.1 L211.2,423.0 L211.8,423.0 L212.3,423.1 L212.9,422.9 L213.4,422.8 L214.0,422.6 L214.5,422.8 L215.1,423.2 L215.6,423.2 L216.2,422.7 L216.7,422.9 L217.3,423.5 L217.8,423.1 L218.4,422.8 L218.9,423.0 L219.5,422.9 L220.0,423.0 L220.6,423.4 L221.1,423.4 L221.7,423.3 L222.2,423.4 L222.8,423.2 L223.3,423.0 L223.9,423.0 L224.4,423.0 L225.0,423.2 L225.5,423.1 L226.1,422.9 L226.6,422.9 L227.2,422.8 L227.7,422.8 L228.3,423.1 L228.8,423.4 L229.4,423.5 L229.9,423.7 L230.5,423.7 L231.0,423.2 L231.6,422.8 L232.1,422.7 L232.7,422.9 L233.2,423.2 L233.8,422.9 L234.3,422.4 L234.9,422.5 L235.4,423.0 L236.0,422.9 L236.5,422.3 L237.1,421.6 L237.6,421.2 L238.2,421.0 L238.7,420.9 L239.3,420.8 L239.8,420.6 L240.4,420.5 L240.9,420.8 L241.5,421.1 L242.0,421.0 L242.6,420.8 L243.1,420.9 L243.7,420.6 L244.2,419.9 L244.8,419.7 L245.3,419.5 L245.9,419.5 L246.4,419.6 L247.0,419.8 L247.5,420.2 L248.1,420.2 L248.6,419.6 L249.2,419.1 L249.7,419.0 L250.3,418.9 L250.8,418.8 L251.4,418.6 L251.9,418.5 L252.5,418.5 L253.0,418.7 L253.6,418.9 L254.1,418.6 L254.7,417.8 L255.2,417.0 L255.8,416.8 L256.3,416.9 L256.9,416.6 L257.4,416.4 L258.0,416.5 L258.5,416.6 L259.1,417.1 L259.6,417.2 L260.2,416.7 L260.7,416.2 L261.3,415.8 L261.8,415.8 L262.4,415.6 L262.9,415.1 L263.5,415.2 L264.0,415.5 L264.6,415.0 L265.1,414.7 L265.7,415.0 L266.2,415.1 L266.8,415.0 L267.3,414.6 L267.9,414.4 L268.4,414.5 L269.0,414.2 L269.5,414.0 L270.1,414.2 L270.6,414.1 L271.2,413.8 L271.7,413.2 L272.3,412.9 L272.8,412.9 L273.4,413.1 L273.9,413.1 L274.5,412.7 L275.0,412.6 L275.6,412.6 L276.1,412.7 L276.7,412.6 L277.2,412.6 L277.8,412.9 L278.3,412.7 L278.9,412.2 L279.4,411.7 L280.0,411.7 L280.5,411.8 L281.1,411.6 L281.6,411.3 L282.2,410.7 L282.7,410.2 L283.3,410.5 L283.8,410.7 L284.4,410.9 L284.9,411.4 L285.5,411.5 L286.0,411.2 L286.6,410.9 L287.1,410.8 L287.7,410.6 L288.2,410.4 L288.8,410.0 L289.3,409.8 L289.9,410.1 L290.4,410.4 L291.0,410.3 L291.5,409.8 L292.1,409.2 L292.6,409.2 L293.2,409.3 L293.7,409.0 L294.3,408.3 L294.8,407.8 L295.4,407.7 L295.9,408.5 L296.5,409.0 L297.0,408.5 L297.6,407.9 L298.1,408.0 L298.7,407.9 L299.2,407.8 L299.8,407.4 L300.3,407.1 L300.9,407.3 L301.4,407.5 L302.0,407.6 L302.5,407.4 L303.1,407.0 L303.6,407.1 L304.2,407.0 L304.7,406.9 L305.3,406.9 L305.8,406.6 L306.4,406.5 L306.9,406.5 L307.5,406.4 L308.0,406.4 L308.6,406.3 L309.1,405.9 L309.7,405.7 L310.2,405.9 L310.8,405.5 L311.3,404.9 L311.9,404.3 L312.4,403.8 L313.0,404.0 L313.5,404.3 L314.1,404.3 L314.6,404.2 L315.2,404.2 L315.7,404.2 L316.3,403.9 L316.8,403.5 L317.4,403.2 L317.9,402.9 L318.5,402.8 L319.0,402.8 L319.6,402.4 L320.1,402.2 L320.7,402.0 L321.2,401.6 L321.8,401.8 L322.3,401.8 L322.9,401.6 L323.4,401.2 L324.0,400.8 L324.5,401.0 L325.1,401.1 L325.6,401.2 L326.2,400.7 L326.7,400.2 L327.3,400.5 L327.8,400.6 L328.4,400.4 L328.9,400.0 L329.5,399.6 L330.0,399.5 L330.6,399.7 L331.1,399.9 L331.7,399.2 L332.2,398.4 L332.8,398.6 L333.3,398.7 L333.9,398.0 L334.4,397.5 L335.0,398.0 L335.5,398.0 L336.1,397.6 L336.6,397.4 L337.2,396.9 L337.7,396.7 L338.3,396.9 L338.8,396.7 L339.4,396.6 L339.9,396.5 L340.5,396.4 L341.0,395.8 L341.6,395.3 L342.1,395.4 L342.7,395.5 L343.2,395.4 L343.8,395.4 L344.3,395.2 L344.9,394.5 L345.4,393.9 L346.0,394.0 L346.5,394.2 L347.1,393.9 L347.6,393.8 L348.2,393.9 L348.7,393.8 L349.3,393.6 L349.8,393.2 L350.4,392.5 L350.9,392.4 L351.5,392.5 L352.0,392.5 L352.6,392.0 L353.1,391.6 L353.7,391.5 L354.2,391.5 L354.8,391.4 L355.3,391.6 L355.9,392.0 L356.4,391.6 L357.0,391.0 L357.5,391.1 L358.1,391.4 L358.6,391.1 L359.2,390.5 L359.7,389.8 L360.3,389.6 L360.8,389.8 L361.4,389.7 L361.9,389.2 L362.5,389.1 L363.0,389.0 L363.6,388.5 L364.1,388.4 L364.7,388.9 L365.2,389.1 L365.8,389.1 L366.3,389.2 L366.9,389.2 L367.4,388.8 L368.0,388.5 L368.5,388.8 L369.1,388.8 L369.6,388.2 L370.2,387.6 L370.7,387.2 L371.3,386.8 L371.8,386.5 L372.4,386.3 L372.9,386.6 L373.5,387.0 L374.0,387.0 L374.6,387.0 L375.1,386.6 L375.7,386.2 L376.2,386.1 L376.8,386.1 L377.3,386.1 L377.9,386.3 L378.4,386.2 L379.0,385.6 L379.5,385.1 L380.1,385.3 L380.6,385.6 L381.2,385.3 L381.7,385.0 L382.3,385.1 L382.8,384.6 L383.4,384.0 L383.9,384.3 L384.5,384.5 L385.0,384.1 L385.6,383.8 L386.1,383.8 L386.7,383.6 L387.2,383.3 L387.8,383.4 L388.3,383.6 L388.9,383.7 L389.4,383.4 L390.0,383.0 L390.5,382.9 L391.1,383.0 L391.6,382.9 L392.2,382.6 L392.7,382.1 L393.3,381.8 L393.8,381.7 L394.4,381.5 L394.9,381.6 L395.5,381.7 L396.0,381.2 L396.6,381.2 L397.1,381.5 L397.7,381.4 L398.2,381.1 L398.8,380.8 L399.3,380.7 L399.9,381.1 L400.4,381.4 L401.0,381.0 L401.5,380.4 L402.1,380.7 L402.6,380.9 L403.2,380.6 L403.7,380.1 L404.3,380.4 L404.8,380.6 L405.4,380.2 L405.9,379.9 L406.5,379.6 L407.0,379.3 L407.6,379.6 L408.1,380.0 L408.7,379.9 L409.2,379.3 L409.8,379.0 L410.3,378.7 L410.9,378.6 L411.4,379.2 L412.0,379.8 L412.5,379.5 L413.1,379.1 L413.6,379.2 L414.2,379.1 L414.7,378.7 L415.3,378.4 L415.8,378.4 L416.4,378.6 L416.9,378.7 L417.5,378.0 L418.0,377.7 L418.6,378.1 L419.1,377.8 L419.7,377.2 L420.2,377.1 L420.8,377.2 L421.3,377.3 L421.9,377.6 L422.4,377.7 L423.0,377.4 L423.5,377.1 L424.1,377.0 L424.6,377.4 L425.2,377.4 L425.7,376.8 L426.3,376.8 L426.8,377.2 L427.4,376.9 L427.9,376.1 L428.5,375.7 L429.0,376.1 L429.6,376.4 L430.1,376.0 L430.7,375.7 L431.2,375.8 L431.8,376.1 L432.3,376.0 L432.9,375.4 L433.4,375.2 L434.0,375.2 L434.5,374.9 L435.1,374.9 L435.6,375.2 L436.2,375.3 L436.7,375.4 L437.3,375.3 L437.8,374.9 L438.4,374.7 L438.9,374.5 L439.5,374.4 L440.0,374.4 L440.6,374.1 L441.1,374.0 L441.7,374.4 L442.2,374.2 L442.8,373.4 L443.3,373.1 L443.9,373.6 L444.4,374.1 L445.0,374.2 L445.5,374.0 L446.1,373.6 L446.6,373.3 L447.2,373.0 L447.7,373.2 L448.3,373.4 L448.8,373.0 L449.4,372.9 L449.9,372.9 L450.5,373.1 L451.0,373.0 L451.6,372.8 L452.1,372.6 L452.7,372.3 L453.2,372.0 L453.8,372.0 L454.3,372.1 L454.9,372.1 L455.4,372.2 L456.0,372.4 L456.5,372.6 L457.1,372.2 L457.6,371.8 L458.2,371.9 L458.7,371.8 L459.3,371.4 L459.8,371.0 L460.4,371.0 L460.9,371.4 L461.5,371.6 L462.0,371.4 L462.6,371.2 L463.1,371.1 L463.7,370.9 L464.2,371.1 L464.8,371.4 L465.3,371.4 L465.9,371.1 L466.4,370.7 L467.0,370.4 L467.5,370.3 L468.1,370.4 L468.6,370.1 L469.2,369.7 L469.7,369.8 L470.3,369.7 L470.8,369.2 L471.4,369.3 L471.9,369.9 L472.5,369.9 L473.0,369.5 L473.6,369.4 L474.1,369.9 L474.7,370.1 L475.2,369.6 L475.8,369.2 L476.3,369.4 L476.9,369.6 L477.4,369.2 L478.0,368.9 L478.5,368.9 L479.1,369.0 L479.6,368.8 L480.2,368.5 L480.7,368.0 L481.3,368.1 L481.8,368.8 L482.4,369.2 L482.9,369.1 L483.5,368.8 L484.0,368.3 L484.6,368.2 L485.1,368.2 L485.7,368.3 L486.2,368.3 L486.8,367.7 L487.3,367.5 L487.9,367.5 L488.4,367.6 L489.0,367.5 L489.5,367.3 L490.1,367.7 L490.6,367.9 L491.2,367.8 L491.7,368.1 L492.3,368.1 L492.8,367.7 L493.4,367.4 L493.9,367.3 L494.5,367.1 L495.0,366.7 L495.6,366.7 L496.1,366.8 L496.7,366.8 L497.2,366.9 L497.8,366.9 L498.3,366.5 L498.9,366.5 L499.4,366.4 L500.0,366.4 L500.5,366.5 L501.1,366.4 L501.6,365.9 L502.2,365.6 L502.7,365.7 L503.3,365.5 L503.8,365.8 L504.4,366.4 L504.9,366.4 L505.5,365.6 L506.0,365.2 L506.6,365.4 L507.1,365.4 L507.7,365.2 L508.2,365.1 L508.8,365.6 L509.3,365.6 L509.9,364.8 L510.4,364.5 L511.0,364.8 L511.5,364.7 L512.1,364.4 L512.6,364.5 L513.2,364.6 L513.7,364.5 L514.3,364.4 L514.8,363.9 L515.4,363.7 L515.9,364.1 L516.5,364.4 L517.0,364.2 L517.6,364.0 L518.1,364.1 L518.7,364.0 L519.2,363.8 L519.8,363.9 L520.3,364.4 L520.9,364.6 L521.4,364.0 L522.0,363.7 L522.5,363.7 L523.1,363.8 L523.6,364.2 L524.2,364.1 L524.7,363.8 L525.3,363.3 L525.8,363.2 L526.4,363.3 L526.9,363.2 L527.5,363.2 L528.0,363.2 L528.6,362.8 L529.1,362.9 L529.7,363.2 L530.2,363.2 L530.8,363.0 L531.3,362.9 L531.9,362.8 L532.4,362.9 L533.0,363.1 L533.5,363.1 L534.1,363.0 L534.6,363.1 L535.2,362.7 L535.7,362.5 L536.3,362.7 L536.8,362.7 L537.4,362.6 L537.9,362.5 L538.5,362.3 L539.0,361.7 L539.6,361.3 L540.1,361.4 L540.7,361.5 L541.2,361.0 L541.8,360.7 L542.3,361.0 L542.9,361.5 L543.4,361.5 L544.0,361.4 L544.5,361.5 L545.1,361.6 L545.6,361.7 L546.2,361.5 L546.7,361.0 L547.3,360.9 L547.8,361.0 L548.4,361.0 L548.9,360.9 L549.5,360.9 L550.0,360.9 L550.6,360.8 L551.1,360.8 L551.7,360.6 L552.2,360.5 L552.8,360.7 L553.3,360.8 L553.9,360.8 L554.4,360.4 L555.0,360.1 L555.5,360.0 L556.1,359.7 L556.6,359.2 L557.2,359.4 L557.7,359.9 L558.3,359.4 L558.8,358.7 L559.4,359.0 L559.9,359.2 L560.5,359.3 L561.0,359.9 L561.6,359.9 L562.1,359.5 L562.7,359.1 L563.2,359.2 L563.8,359.2 L564.3,359.0 L564.9,358.6 L565.4,358.6 L566.0,358.7 L566.5,358.5 L567.1,358.2 L567.6,358.3 L568.2,358.4 L568.7,358.3 L569.3,358.0 L569.8,357.8 L570.4,358.2 L570.9,358.1 L571.5,357.7 L572.0,357.5 L572.6,357.5 L573.1,357.7 L573.7,358.0 L574.2,358.2 L574.8,358.2 L575.3,357.7 L575.9,357.2 L576.4,357.0 L577.0,357.0 L577.5,357.5 L578.1,357.6 L578.6,357.4 L579.2,357.1 L579.7,356.9 L580.3,356.8 L580.8,356.7 L581.4,356.7 L581.9,356.7 L582.5,356.8 L583.0,356.9 L583.6,356.7 L584.1,356.6 L584.7,356.4 L585.2,356.1 L585.8,356.4 L586.3,356.5 L586.9,356.3 L587.4,356.1 L588.0,356.1 L588.5,356.1 L589.1,356.0 L589.6,356.0 L590.2,356.0 L590.7,355.5 L591.3,355.3 L591.8,355.2 L592.4,355.0 L592.9,354.9 L593.5,355.1 L594.0,355.3 L594.6,355.0 L595.1,354.7 L595.7,355.1 L596.2,355.2 L596.8,354.8 L597.3,354.4 L597.9,354.6 L598.4,355.3 L599.0,355.3 L599.5,354.5 L600.1,353.9 L600.6,353.8 L601.2,353.7 L601.7,353.3 L602.3,352.7 L602.8,352.3 L603.4,352.0 L603.9,351.4 L604.5,350.5 L605.0,349.7 L605.6,349.1 L606.1,349.1 L606.7,349.6 L607.2,349.5 L607.8,349.3 L608.3,349.6 L608.9,349.6 L609.4,349.6 L610.0,349.4 L610.5,348.6 L611.1,347.8 L611.6,347.1 L612.2,346.7 L612.7,346.7 L613.3,346.6 L613.8,346.4 L614.4,346.3 L614.9,346.1 L615.5,345.6 L616.0,344.3 L616.6,343.0 L617.1,341.8 L617.7,337.7 L618.2,333.1 L618.8,325.5 L619.3,313.9 L619.9,303.3 L620.4,292.4 L621.0,280.2 L621.5,270.0 L622.1,260.5 L622.6,250.8 L623.2,240.7 L623.7,231.0 L624.3,222.3 L624.8,213.9 L625.4,208.4 L625.9,208.2 L626.5,208.6 L627.0,208.4 L627.6,207.8 L628.1,207.4 L628.7,207.5 L629.2,214.8 L629.8,223.1 L630.3,230.6 L630.9,237.8 L631.4,240.2 L632.0,231.2 L632.5,222.7 L633.1,215.2 L633.6,208.1 L634.2,207.5 L634.7,207.2 L635.3,207.5 L635.8,207.9 L636.4,208.0 L636.9,207.8 L637.5,207.7 L638.0,207.4 L638.6,207.2 L639.1,207.2 L639.7,207.2 L640.2,207.4 L640.8,208.1 L641.3,208.5 L641.9,207.8 L642.4,207.7 L643.0,208.1 L643.5,208.3 L644.1,208.3 L644.6,208.1 L645.2,210.2 L645.7,221.8 L646.3,235.1 L646.8,248.9 L647.4,261.5 L647.9,269.5 L648.5,277.5 L649.0,286.1 L649.6,294.6 L650.1,301.4 L650.7,307.9 L651.2,314.4 L651.8,320.8 L652.3,324.4 L652.9,327.6 L653.4,331.7 L654.0,333.6 L654.5,333.8 L655.1,334.4 L655.6,335.0 L656.2,335.5 L656.7,336.4 L657.3,337.6 L657.8,339.0 L658.4,340.5 L658.9,341.8 L659.5,343.3 L660.0,345.2 L660.6,346.9 L661.1,348.6 L661.7,350.8 L662.2,352.9 L662.8,354.4 L663.3,355.7 L663.9,357.2 L664.4,358.1 L665.0,358.6 L665.5,359.3 L666.1,360.5 L666.6,361.3 L667.2,361.7 L667.7,361.7 L668.3,361.4 L668.8,361.5 L669.4,362.0 L669.9,362.6 L670.5,363.0 L671.0,363.3 L671.6,363.7 L672.1,363.7 L672.7,363.1 L673.2,362.9 L673.8,363.1 L674.3,363.3 L674.9,363.5 L675.4,363.9 L676.0,364.3 L676.5,364.4 L677.1,364.2 L677.6,364.0 L678.2,364.1 L678.7,364.0 L679.3,364.1 L679.8,364.3 L680.4,364.3 L680.9,364.1 L681.5,364.6 L682.0,365.1 L682.6,365.0 L683.1,365.1 L683.7,365.3 L684.2,365.8 L684.8,365.9 L685.3,365.8 L685.9,365.8 L686.4,365.7 L687.0,365.7 L687.5,365.8 L688.1,365.6 L688.6,365.8 L689.2,366.0 L689.7,366.2 L690.3,365.9 L690.8,365.5 L691.4,365.8 L691.9,366.3 L692.5,366.7 L693.0,366.6 L693.6,366.6 L694.1,366.8 L694.7,366.7 L695.2,366.9 L695.8,367.2 L696.3,366.9 L696.9,366.6 L697.4,367.1 L698.0,367.3 L698.5,367.4 L699.1,367.6 L699.6,367.5 L700.2,367.6 L700.7,368.1 L701.3,368.1 L701.8,367.6 L702.4,367.6 L702.9,368.1 L703.5,368.1 L704.0,367.9 L704.6,367.9 L705.1,368.3 L705.7,368.2 L706.2,368.1 L706.8,368.3 L707.3,368.2 L707.9,367.9 L708.4,368.0 L709.0,368.3 L709.5,368.6 L710.1,368.9 L710.6,369.0 L711.2,368.9 L711.7,368.9 L712.3,369.0 L712.8,368.8 L713.4,368.5 L713.9,368.3 L714.5,368.6 L715.0,369.1 L715.6,368.9 L716.1,368.6 L716.7,368.9 L717.2,369.0 L717.8,369.0 L718.3,369.2 L718.9,369.4 L719.4,369.5 L720.0,369.7 L720.5,369.6 L721.1,369.7 L721.6,369.7 L722.2,369.7 L722.7,370.1 L723.3,370.0 L723.8,369.7 L724.4,369.8 L724.9,369.7 L725.5,369.6 L726.0,369.9 L726.6,369.9 L727.1,369.5 L727.7,369.7 L728.2,370.0 L728.8,370.2 L729.3,370.5 L729.9,370.3 L730.4,369.8 L731.0,369.6 L731.5,369.9 L732.1,370.3 L732.6,370.5 L733.2,370.6 L733.7,370.8 L734.3,371.2 L734.8,371.0 L735.4,370.6 L735.9,370.3 L736.5,369.9 L737.0,370.4 L737.6,371.0 L738.1,370.9 L738.7,370.7 L739.2,370.7 L739.8,371.1 L740.3,371.2 L740.9,371.2 L741.4,371.6 L742.0,371.8 L742.5,371.4 L743.1,370.9 L743.6,371.2 L744.2,371.3 L744.7,370.8 L745.3,370.7 L745.8,371.0 L746.4,371.2 L746.9,371.2 L747.5,371.2 L748.0,371.4 L748.6,371.5 L749.1,371.5 L749.7,371.4 L750.2,371.2 L750.8,371.0 L751.3,371.4 L751.9,372.2 L752.4,372.1 L753.0,371.3 L753.5,371.0 L754.1,371.3 L754.6,371.5 L755.2,371.5 L755.7,371.7 L756.3,371.9 L756.8,371.6 L757.4,371.8 L757.9,372.3 L758.5,372.0 L759.0,371.7 L759.6,372.0 L760.1,372.0 L760.7,371.8 L761.2,371.7 L761.8,371.6 L762.3,371.7 L762.9,371.9 L763.4,371.6 L764.0,371.4 L764.5,371.6 L765.1,371.6 L765.6,371.5 L766.2,371.8 L766.7,372.0 L767.3,372.3 L767.8,372.5 L768.4,372.4 L768.9,372.2 L769.5,371.9 L770.0,371.5 L770.6,371.4 L771.1,371.7 L771.7,371.6 L772.2,371.4 L772.8,372.0 L773.3,372.6 L773.9,372.6 L774.4,372.4 L775.0,372.1 L775.5,371.8 L776.1,372.0 L776.6,371.9 L777.2,371.9 L777.7,372.3 L778.3,372.3 L778.8,372.0 L779.4,372.1 L779.9,372.3 L780.5,372.6 L781.0,372.6 L781.6,372.1 L782.1,372.0 L782.7,372.8 L783.2,373.0 L783.8,372.3 L784.3,371.7 L784.9,371.8 L785.4,372.1 L786.0,372.3 L786.5,372.2" stroke="#0000FF" stroke-width="2.6"/>
<path d="M60.0,446.7 L60.5,446.3 L61.1,445.9 L61.6,446.0 L62.2,446.5 L62.7,446.7 L63.3,446.3 L63.8,445.9 L64.4,446.0 L64.9,446.0 L65.5,445.9 L66.0,445.7 L66.6,445.4 L67.1,445.0 L67.7,444.8 L68.2,444.8 L68.8,444.9 L69.3,444.8 L69.9,445.1 L70.4,445.3 L71.0,444.8 L71.5,444.4 L72.1,444.5 L72.6,444.9 L73.2,445.2 L73.7,444.9 L74.3,444.5 L74.8,444.2 L75.4,444.5 L75.9,444.6 L76.5,444.3 L77.0,444.1 L77.6,444.1 L78.1,444.5 L78.7,444.7 L79.2,444.5 L79.8,444.3 L80.3,444.1 L80.9,443.8 L81.4,443.7 L82.0,443.9 L82.5,444.0 L83.1,444.2 L83.6,444.4 L84.2,444.6 L84.7,444.6 L85.3,444.4 L85.8,444.0 L86.4,443.7 L86.9,443.7 L87.5,444.1 L88.0,443.9 L88.6,444.0 L89.1,444.2 L89.7,443.7 L90.2,443.5 L90.8,443.7 L91.3,443.7 L91.9,443.8 L92.4,444.0 L93.0,444.0 L93.5,443.9 L94.1,443.9 L94.6,443.8 L95.2,444.0 L95.7,443.9 L96.3,443.3 L96.8,443.4 L97.4,443.4 L97.9,442.7 L98.5,442.6 L99.0,443.2 L99.6,443.6 L100.1,443.7 L100.7,443.7 L101.2,443.5 L101.8,443.5 L102.3,443.4 L102.9,443.2 L103.4,443.3 L104.0,443.6 L104.5,443.6 L105.1,443.6 L105.6,443.5 L106.2,443.2 L106.7,443.2 L107.3,443.4 L107.8,443.3 L108.4,443.1 L108.9,443.0 L109.5,443.2 L110.0,443.4 L110.6,443.0 L111.1,442.7 L111.7,443.0 L112.2,443.2 L112.8,443.0 L113.3,443.1 L113.9,443.4 L114.4,443.2 L115.0,443.2 L115.5,443.3 L116.1,443.2 L116.6,443.1 L117.2,443.2 L117.7,443.3 L118.3,443.2 L118.8,443.1 L119.4,443.2 L119.9,443.5 L120.5,443.4 L121.0,443.3 L121.6,443.3 L122.1,443.3 L122.7,443.2 L123.2,443.1 L123.8,443.2 L124.3,443.3 L124.9,443.0 L125.4,442.9 L126.0,442.8 L126.5,443.1 L127.1,443.1 L127.6,443.0 L128.2,443.0 L128.7,442.7 L129.3,442.5 L129.8,442.6 L130.4,442.6 L130.9,442.9 L131.5,442.6 L132.0,441.8 L132.6,441.8 L133.1,442.3 L133.7,442.5 L134.2,442.3 L134.8,442.4 L135.3,442.6 L135.9,442.5 L136.4,442.4 L137.0,442.4 L137.5,442.9 L138.1,443.0 L138.6,442.1 L139.2,441.5 L139.7,441.9 L140.3,442.5 L140.8,442.7 L141.4,442.6 L141.9,442.2 L142.5,442.1 L143.0,442.5 L143.6,442.8 L144.1,442.4 L144.7,442.2 L145.2,442.4 L145.8,442.6 L146.3,442.6 L146.9,442.4 L147.4,442.3 L148.0,442.0 L148.5,441.8 L149.1,442.3 L149.6,442.9 L150.2,442.6 L150.7,442.0 L151.3,442.0 L151.8,442.5 L152.4,442.4 L152.9,442.3 L153.5,442.3 L154.0,442.2 L154.6,442.5 L155.1,442.7 L155.7,442.7 L156.2,442.8 L156.8,442.7 L157.3,442.6 L157.9,442.7 L158.4,442.7 L159.0,442.4 L159.5,442.0 L160.1,441.7 L160.6,441.7 L161.2,441.3 L161.7,440.9 L162.3,441.0 L162.8,440.9 L163.4,440.5 L163.9,440.3 L164.5,440.5 L165.0,440.5 L165.6,439.7 L166.1,439.0 L166.7,439.0 L167.2,439.2 L167.8,439.1 L168.3,439.1 L168.9,439.4 L169.4,439.5 L170.0,439.3 L170.5,439.1 L171.1,439.0 L171.6,438.9 L172.2,438.8 L172.7,438.8 L173.3,439.1 L173.8,439.1 L174.4,439.0 L174.9,439.2 L175.5,439.1 L176.0,438.9 L176.6,439.0 L177.1,439.4 L177.7,439.7 L178.2,439.5 L178.8,439.8 L179.3,440.1 L179.9,439.9 L180.4,439.8 L181.0,439.8 L181.5,440.2 L182.1,440.8 L182.6,440.9 L183.2,440.6 L183.7,440.8 L184.3,441.0 L184.8,440.9 L185.4,440.8 L185.9,440.9 L186.5,440.7 L187.0,440.7 L187.6,440.8 L188.1,440.7 L188.7,440.7 L189.2,441.0 L189.8,441.4 L190.3,441.1 L190.9,440.7 L191.4,440.4 L192.0,440.2 L192.5,440.4 L193.1,440.4 L193.6,440.4 L194.2,440.6 L194.7,441.0 L195.3,441.4 L195.8,441.3 L196.4,441.0 L196.9,441.2 L197.5,441.1 L198.0,440.4 L198.6,440.2 L199.1,440.5 L199.7,440.9 L200.2,440.5 L200.8,440.4 L201.3,440.6 L201.9,440.4 L202.4,440.3 L203.0,440.4 L203.5,440.0 L204.1,439.4 L204.6,439.6 L205.2,440.0 L205.7,440.0 L206.3,440.2 L206.8,440.1 L207.4,440.0 L207.9,439.7 L208.5,439.2 L209.0,439.1 L209.6,439.3 L210.1,439.7 L210.7,439.9 L211.2,439.6 L211.8,439.1 L212.3,438.7 L212.9,438.8 L213.4,439.0 L214.0,439.0 L214.5,439.2 L215.1,439.3 L215.6,438.9 L216.2,438.5 L216.7,438.2 L217.3,438.4 L217.8,438.2 L218.4,437.8 L218.9,437.9 L219.5,438.0 L220.0,438.1 L220.6,438.1 L221.1,438.2 L221.7,438.5 L222.2,438.3 L222.8,438.1 L223.3,438.3 L223.9,438.4 L224.4,438.4 L225.0,438.8 L225.5,439.2 L226.1,439.2 L226.6,439.5 L227.2,440.3 L227.7,440.6 L228.3,440.3 L228.8,440.3 L229.4,440.2 L229.9,440.0 L230.5,439.7 L231.0,439.2 L231.6,438.7 L232.1,438.7 L232.7,438.7 L233.2,438.9 L233.8,439.1 L234.3,438.9 L234.9,438.8 L235.4,439.1 L236.0,438.7 L236.5,438.0 L237.1,437.8 L237.6,437.9 L238.2,437.1 L238.7,436.3 L239.3,436.5 L239.8,436.8 L240.4,436.6 L240.9,436.4 L241.5,436.7 L242.0,436.6 L242.6,436.1 L243.1,436.0 L243.7,436.3 L244.2,436.3 L244.8,435.9 L245.3,435.6 L245.9,435.6 L246.4,435.7 L247.0,435.5 L247.5,435.1 L248.1,434.8 L248.6,434.4 L249.2,434.3 L249.7,434.2 L250.3,434.2 L250.8,434.7 L251.4,434.8 L251.9,434.2 L252.5,433.7 L253.0,433.6 L253.6,433.6 L254.1,433.5 L254.7,433.6 L255.2,433.7 L255.8,433.2 L256.3,432.8 L256.9,432.7 L257.4,432.1 L258.0,431.9 L258.5,432.5 L259.1,432.9 L259.6,432.5 L260.2,431.4 L260.7,430.5 L261.3,430.9 L261.8,431.4 L262.4,431.4 L262.9,431.3 L263.5,431.0 L264.0,430.8 L264.6,430.8 L265.1,430.4 L265.7,430.0 L266.2,430.0 L266.8,430.1 L267.3,429.7 L267.9,429.3 L268.4,429.2 L269.0,429.2 L269.5,429.5 L270.1,429.6 L270.6,429.4 L271.2,429.1 L271.7,428.8 L272.3,428.4 L272.8,428.0 L273.4,428.2 L273.9,428.4 L274.5,428.2 L275.0,427.9 L275.6,427.5 L276.1,427.4 L276.7,427.6 L277.2,427.5 L277.8,427.7 L278.3,427.3 L278.9,426.2 L279.4,425.9 L280.0,426.3 L280.5,426.4 L281.1,426.2 L281.6,425.8 L282.2,425.4 L282.7,425.3 L283.3,425.7 L283.8,425.9 L284.4,426.0 L284.9,426.3 L285.5,426.0 L286.0,425.4 L286.6,425.4 L287.1,425.2 L287.7,424.4 L288.2,424.2 L288.8,424.6 L289.3,424.4 L289.9,424.4 L290.4,424.2 L291.0,423.7 L291.5,423.8 L292.1,424.1 L292.6,424.0 L293.2,423.6 L293.7,423.4 L294.3,423.2 L294.8,423.1 L295.4,423.3 L295.9,423.2 L296.5,423.0 L297.0,422.7 L297.6,422.3 L298.1,421.7 L298.7,421.5 L299.2,421.7 L299.8,421.4 L300.3,421.0 L300.9,420.8 L301.4,420.4 L302.0,420.5 L302.5,420.6 L303.1,420.1 L303.6,420.0 L304.2,420.4 L304.7,420.0 L305.3,419.3 L305.8,418.9 L306.4,418.5 L306.9,418.1 L307.5,418.1 L308.0,418.3 L308.6,418.7 L309.1,418.7 L309.7,418.5 L310.2,418.5 L310.8,418.1 L311.3,417.4 L311.9,417.2 L312.4,417.5 L313.0,417.6 L313.5,417.3 L314.1,416.4 L314.6,416.3 L315.2,416.8 L315.7,416.8 L316.3,416.5 L316.8,415.9 L317.4,415.6 L317.9,415.8 L318.5,415.9 L319.0,415.7 L319.6,415.1 L320.1,414.5 L320.7,414.5 L321.2,414.4 L321.8,414.0 L322.3,413.9 L322.9,413.8 L323.4,413.1 L324.0,412.9 L324.5,413.1 L325.1,413.0 L325.6,412.5 L326.2,412.1 L326.7,412.0 L327.3,411.8 L327.8,411.7 L328.4,411.5 L328.9,411.3 L329.5,411.4 L330.0,411.0 L330.6,410.6 L331.1,410.6 L331.7,410.6 L332.2,410.5 L332.8,410.7 L333.3,410.8 L333.9,410.5 L334.4,410.1 L335.0,410.0 L335.5,410.1 L336.1,410.1 L336.6,409.9 L337.2,410.0 L337.7,410.4 L338.3,410.5 L338.8,410.5 L339.4,410.7 L339.9,410.7 L340.5,410.4 L341.0,410.1 L341.6,409.6 L342.1,409.1 L342.7,408.9 L343.2,408.8 L343.8,408.7 L344.3,408.9 L344.9,408.7 L345.4,408.2 L346.0,407.6 L346.5,406.7 L347.1,406.1 L347.6,406.2 L348.2,406.5 L348.7,406.7 L349.3,406.6 L349.8,406.0 L350.4,405.7 L350.9,405.4 L351.5,404.9 L352.0,404.6 L352.6,404.5 L353.1,404.1 L353.7,403.1 L354.2,402.6 L354.8,403.0 L355.3,403.5 L355.9,403.2 L356.4,402.8 L357.0,402.6 L357.5,402.4 L358.1,402.3 L358.6,401.8 L359.2,401.7 L359.7,401.7 L360.3,401.2 L360.8,401.0 L361.4,401.4 L361.9,401.0 L362.5,400.5 L363.0,400.7 L363.6,400.5 L364.1,400.2 L364.7,400.6 L365.2,400.8 L365.8,400.5 L366.3,400.2 L366.9,399.9 L367.4,399.6 L368.0,399.2 L368.5,399.1 L369.1,398.9 L369.6,398.8 L370.2,399.1 L370.7,399.2 L371.3,398.9 L371.8,398.6 L372.4,398.4 L372.9,398.1 L373.5,398.2 L374.0,398.2 L374.6,397.9 L375.1,397.7 L375.7,397.5 L376.2,397.3 L376.8,397.3 L377.3,397.1 L377.9,396.8 L378.4,397.1 L379.0,397.1 L379.5,396.6 L380.1,396.2 L380.6,396.0 L381.2,396.1 L381.7,396.3 L382.3,396.4 L382.8,396.3 L383.4,395.6 L383.9,394.9 L384.5,394.8 L385.0,395.1 L385.6,395.0 L386.1,394.6 L386.7,394.6 L387.2,394.6 L387.8,394.4 L388.3,394.6 L388.9,394.9 L389.4,394.8 L390.0,394.6 L390.5,394.1 L391.1,393.7 L391.6,393.6 L392.2,393.4 L392.7,392.9 L393.3,392.6 L393.8,392.7 L394.4,392.9 L394.9,393.0 L395.5,392.8 L396.0,392.2 L396.6,392.0 L397.1,392.0 L397.7,391.8 L398.2,391.9 L398.8,392.2 L399.3,392.0 L399.9,391.9 L400.4,391.9 L401.0,391.6 L401.5,391.4 L402.1,391.3 L402.6,391.2 L403.2,391.1 L403.7,390.9 L404.3,390.6 L404.8,390.3 L405.4,390.2 L405.9,390.2 L406.5,390.5 L407.0,390.5 L407.6,390.0 L408.1,389.7 L408.7,389.7 L409.2,390.0 L409.8,390.1 L410.3,389.9 L410.9,389.5 L411.4,389.1 L412.0,389.3 L412.5,389.6 L413.1,389.1 L413.6,388.9 L414.2,389.2 L414.7,389.5 L415.3,389.6 L415.8,389.2 L416.4,388.9 L416.9,388.9 L417.5,388.6 L418.0,388.5 L418.6,389.0 L419.1,389.0 L419.7,388.6 L420.2,388.5 L420.8,388.6 L421.3,388.5 L421.9,388.2 L422.4,388.2 L423.0,388.1 L423.5,387.9 L424.1,387.7 L424.6,387.6 L425.2,387.4 L425.7,387.1 L426.3,387.2 L426.8,387.6 L427.4,387.6 L427.9,386.9 L428.5,386.0 L429.0,386.2 L429.6,387.1 L430.1,387.6 L430.7,387.4 L431.2,386.8 L431.8,386.4 L432.3,386.6 L432.9,386.9 L433.4,386.5 L434.0,386.2 L434.5,386.4 L435.1,386.1 L435.6,385.4 L436.2,385.6 L436.7,386.1 L437.3,385.9 L437.8,385.4 L438.4,385.5 L438.9,385.7 L439.5,385.4 L440.0,385.0 L440.6,385.1 L441.1,385.4 L441.7,385.2 L442.2,385.2 L442.8,385.6 L443.3,385.2 L443.9,384.5 L444.4,384.2 L445.0,383.9 L445.5,384.2 L446.1,384.9 L446.6,385.3 L447.2,385.0 L447.7,384.8 L448.3,384.8 L448.8,384.5 L449.4,384.4 L449.9,384.7 L450.5,384.8 L451.0,384.9 L451.6,384.5 L452.1,383.9 L452.7,383.7 L453.2,383.8 L453.8,383.8 L454.3,383.9 L454.9,383.7 L455.4,383.7 L456.0,384.2 L456.5,384.3 L457.1,383.7 L457.6,383.2 L458.2,383.2 L458.7,383.1 L459.3,383.0 L459.8,383.1 L460.4,383.4 L460.9,383.6 L461.5,383.4 L462.0,383.2 L462.6,383.6 L463.1,384.0 L463.7,383.6 L464.2,383.6 L464.8,384.0 L465.3,383.6 L465.9,383.2 L466.4,383.2 L467.0,383.0 L467.5,383.1 L468.1,383.3 L468.6,382.8 L469.2,382.7 L469.7,383.1 L470.3,383.0 L470.8,382.3 L471.4,382.3 L471.9,382.6 L472.5,382.4 L473.0,382.1 L473.6,381.7 L474.1,381.2 L474.7,381.0 L475.2,381.0 L475.8,380.5 L476.3,379.8 L476.9,379.9 L477.4,380.6 L478.0,380.8 L478.5,380.5 L479.1,380.4 L479.6,380.1 L480.2,380.0 L480.7,380.3 L481.3,380.3 L481.8,380.0 L482.4,379.9 L482.9,380.1 L483.5,380.2 L484.0,380.1 L484.6,380.0 L485.1,380.1 L485.7,380.2 L486.2,380.4 L486.8,380.7 L487.3,380.5 L487.9,379.9 L488.4,379.5 L489.0,379.6 L489.5,379.8 L490.1,379.7 L490.6,379.2 L491.2,379.3 L491.7,379.7 L492.3,379.6 L492.8,379.5 L493.4,379.4 L493.9,379.1 L494.5,379.0 L495.0,378.8 L495.6,378.9 L496.1,379.3 L496.7,379.0 L497.2,378.6 L497.8,378.5 L498.3,378.6 L498.9,378.3 L499.4,378.0 L500.0,377.9 L500.5,377.7 L501.1,377.6 L501.6,377.8 L502.2,377.8 L502.7,377.7 L503.3,377.5 L503.8,377.4 L504.4,377.5 L504.9,377.5 L505.5,377.3 L506.0,377.3 L506.6,377.5 L507.1,377.7 L507.7,377.7 L508.2,377.6 L508.8,377.4 L509.3,377.2 L509.9,377.3 L510.4,377.1 L511.0,376.8 L511.5,376.6 L512.1,376.7 L512.6,376.9 L513.2,376.6 L513.7,375.9 L514.3,375.8 L514.8,375.9 L515.4,376.0 L515.9,376.3 L516.5,376.5 L517.0,376.4 L517.6,376.0 L518.1,375.8 L518.7,376.1 L519.2,375.9 L519.8,375.1 L520.3,375.0 L520.9,375.1 L521.4,375.2 L522.0,375.5 L522.5,375.4 L523.1,375.0 L523.6,374.4 L524.2,374.2 L524.7,374.5 L525.3,374.7 L525.8,374.6 L526.4,374.5 L526.9,374.7 L527.5,375.2 L528.0,375.5 L528.6,375.5 L529.1,375.5 L529.7,375.4 L530.2,375.4 L530.8,375.3 L531.3,374.9 L531.9,374.5 L532.4,374.3 L533.0,374.6 L533.5,374.6 L534.1,374.3 L534.6,373.9 L535.2,373.4 L535.7,373.1 L536.3,373.3 L536.8,373.2 L537.4,372.8 L537.9,373.0 L538.5,373.0 L539.0,372.8 L539.6,372.7 L540.1,372.8 L540.7,372.9 L541.2,373.0 L541.8,373.1 L542.3,372.9 L542.9,372.6 L543.4,372.3 L544.0,372.1 L544.5,372.2 L545.1,372.6 L545.6,372.8 L546.2,372.2 L546.7,371.7 L547.3,371.5 L547.8,371.6 L548.4,371.9 L548.9,371.8 L549.5,371.5 L550.0,371.7 L550.6,372.0 L551.1,371.8 L551.7,371.6 L552.2,371.7 L552.8,371.6 L553.3,371.4 L553.9,371.6 L554.4,371.7 L555.0,371.4 L555.5,371.3 L556.1,371.4 L556.6,371.3 L557.2,371.3 L557.7,371.1 L558.3,371.0 L558.8,371.0 L559.4,371.1 L559.9,370.8 L560.5,370.5 L561.0,370.8 L561.6,371.2 L562.1,371.0 L562.7,370.5 L563.2,370.1 L563.8,370.4 L564.3,370.8 L564.9,370.7 L565.4,370.2 L566.0,369.9 L566.5,369.9 L567.1,369.7 L567.6,369.5 L568.2,369.6 L568.7,369.7 L569.3,369.9 L569.8,370.1 L570.4,369.7 L570.9,369.6 L571.5,369.8 L572.0,369.8 L572.6,369.8 L573.1,369.7 L573.7,369.2 L574.2,369.1 L574.8,369.2 L575.3,369.2 L575.9,369.1 L576.4,369.1 L577.0,369.1 L577.5,368.9 L578.1,368.7 L578.6,368.6 L579.2,368.5 L579.7,368.5 L580.3,368.5 L580.8,368.0 L581.4,368.1 L581.9,368.7 L582.5,368.6 L583.0,368.3 L583.6,368.5 L584.1,368.7 L584.7,368.2 L585.2,367.8 L585.8,368.0 L586.3,368.0 L586.9,368.1 L587.4,368.2 L588.0,368.4 L588.5,368.1 L589.1,367.9 L589.6,368.4 L590.2,368.5 L590.7,367.9 L591.3,367.7 L591.8,367.7 L592.4,367.3 L592.9,366.8 L593.5,366.9 L594.0,367.3 L594.6,367.1 L595.1,367.0 L595.7,367.4 L596.2,367.4 L596.8,366.9 L597.3,366.4 L597.9,366.5 L598.4,366.5 L599.0,365.7 L599.5,365.4 L600.1,365.7 L600.6,366.1 L601.2,366.0 L601.7,365.8 L602.3,365.6 L602.8,365.3 L603.4,364.8 L603.9,364.1 L604.5,362.6 L605.0,361.1 L605.6,360.5 L606.1,361.4 L606.7,361.9 L607.2,362.4 L607.8,362.9 L608.3,363.0 L608.9,362.0 L609.4,361.0 L610.0,360.3 L610.5,360.0 L611.1,359.4 L611.6,358.9 L612.2,358.2 L612.7,357.4 L613.3,357.0 L613.8,356.5 L614.4,356.1 L614.9,356.0 L615.5,355.8 L616.0,355.4 L616.6,354.9 L617.1,354.5 L617.7,348.6 L618.2,340.3 L618.8,326.2 L619.3,297.3 L619.9,257.7 L620.4,247.5 L621.0,244.5 L621.5,241.3 L622.1,238.1 L622.6,234.8 L623.2,231.8 L623.7,228.5 L624.3,225.7 L624.8,223.4 L625.4,220.7 L625.9,218.9 L626.5,218.8 L627.0,218.8 L627.6,219.0 L628.1,219.4 L628.7,219.5 L629.2,219.6 L629.8,219.2 L630.3,218.8 L630.9,219.2 L631.4,219.6 L632.0,219.3 L632.5,218.7 L633.1,218.4 L633.6,218.6 L634.2,218.6 L634.7,218.9 L635.3,219.2 L635.8,219.1 L636.4,219.0 L636.9,218.9 L637.5,218.8 L638.0,219.1 L638.6,219.2 L639.1,219.0 L639.7,218.7 L640.2,218.3 L640.8,218.3 L641.3,218.6 L641.9,218.8 L642.4,219.0 L643.0,219.3 L643.5,219.1 L644.1,218.7 L644.6,225.4 L645.2,240.1 L645.7,251.7 L646.3,263.2 L646.8,275.5 L647.4,288.2 L647.9,300.4 L648.5,314.1 L649.0,326.1 L649.6,331.4 L650.1,336.2 L650.7,340.8 L651.2,345.8 L651.8,350.6 L652.3,355.0 L652.9,357.5 L653.4,358.5 L654.0,359.7 L654.5,360.7 L655.1,361.4 L655.6,361.9 L656.2,363.0 L656.7,364.5 L657.3,365.7 L657.8,366.8 L658.4,368.7 L658.9,370.7 L659.5,371.9 L660.0,372.8 L660.6,373.6 L661.1,374.7 L661.7,376.0 L662.2,377.1 L662.8,378.1 L663.3,379.0 L663.9,379.5 L664.4,379.5 L665.0,379.4 L665.5,380.0 L666.1,380.7 L666.6,380.9 L667.2,381.3 L667.7,381.6 L668.3,381.8 L668.8,381.6 L669.4,381.5 L669.9,382.0 L670.5,382.6 L671.0,382.6 L671.6,382.6 L672.1,382.9 L672.7,382.9 L673.2,383.3 L673.8,383.8 L674.3,384.1 L674.9,384.3 L675.4,384.1 L676.0,384.0 L676.5,384.6 L677.1,385.1 L677.6,385.4 L678.2,385.9 L678.7,386.2 L679.3,386.5 L679.8,387.1 L680.4,387.5 L680.9,387.1 L681.5,386.6 L682.0,386.6 L682.6,386.7 L683.1,386.9 L683.7,387.5 L684.2,387.6 L684.8,387.3 L685.3,387.3 L685.9,387.1 L686.4,387.1 L687.0,387.4 L687.5,387.4 L688.1,387.6 L688.6,387.9 L689.2,388.2 L689.7,388.4 L690.3,388.5 L690.8,388.3 L691.4,387.8 L691.9,387.4 L692.5,387.4 L693.0,387.5 L693.6,387.3 L694.1,387.3 L694.7,387.4 L695.2,388.0 L695.8,388.4 L696.3,388.2 L696.9,388.2 L697.4,388.4 L698.0,388.4 L698.5,388.3 L699.1,388.5 L699.6,388.6 L700.2,388.3 L700.7,388.5 L701.3,389.1 L701.8,389.3 L702.4,388.9 L702.9,388.6 L703.5,388.5 L704.0,388.2 L704.6,388.2 L705.1,388.5 L705.7,388.5 L706.2,388.4 L706.8,388.5 L707.3,388.9 L707.9,388.7 L708.4,388.8 L709.0,389.2 L709.5,388.9 L710.1,388.8 L710.6,388.9 L711.2,389.2 L711.7,389.4 L712.3,389.4 L712.8,389.2 L713.4,389.2 L713.9,389.5 L714.5,389.4 L715.0,389.2 L715.6,389.1 L716.1,389.1 L716.7,389.5 L717.2,390.0 L717.8,390.0 L718.3,389.7 L718.9,389.7 L719.4,389.7 L720.0,389.7 L720.5,390.0 L721.1,389.7 L721.6,389.4 L722.2,389.6 L722.7,389.8 L723.3,390.0 L723.8,390.2 L724.4,390.2 L724.9,390.4 L725.5,390.5 L726.0,389.9 L726.6,389.7 L727.1,390.1 L727.7,390.8 L728.2,391.3 L728.8,391.3 L729.3,391.0 L729.9,390.6 L730.4,390.2 L731.0,390.3 L731.5,390.8 L732.1,391.1 L732.6,391.1 L733.2,391.3 L733.7,391.5 L734.3,391.3 L734.8,391.1 L735.4,391.4 L735.9,391.6 L736.5,391.4 L737.0,391.8 L737.6,391.9 L738.1,391.5 L738.7,391.8 L739.2,392.3 L739.8,392.1 L740.3,392.1 L740.9,392.6 L741.4,393.1 L742.0,393.0 L742.5,392.6 L743.1,392.3 L743.6,392.5 L744.2,392.7 L744.7,392.4 L745.3,392.7 L745.8,392.9 L746.4,392.7 L746.9,392.6 L747.5,392.9 L748.0,392.8 L748.6,392.5 L749.1,392.6 L749.7,392.7 L750.2,392.5 L750.8,392.3 L751.3,392.4 L751.9,392.4 L752.4,392.3 L753.0,392.5 L753.5,392.9 L754.1,393.0 L754.6,392.9 L755.2,392.4 L755.7,392.4 L756.3,392.6 L756.8,392.4 L757.4,392.4 L757.9,392.5 L758.5,392.1 L759.0,391.8 L759.6,392.0 L760.1,392.3 L760.7,392.4 L761.2,392.3 L761.8,391.9 L762.3,391.5 L762.9,391.4 L763.4,391.6 L764.0,391.8 L764.5,391.8 L765.1,391.7 L765.6,391.8 L766.2,392.2 L766.7,392.5 L767.3,392.3 L767.8,392.3 L768.4,392.9 L768.9,393.0 L769.5,392.7 L770.0,392.3 L770.6,391.9 L771.1,392.1 L771.7,392.8 L772.2,393.5 L772.8,393.8 L773.3,393.4 L773.9,393.1 L774.4,393.0 L775.0,392.8 L775.5,392.9 L776.1,393.0 L776.6,393.4 L777.2,394.1 L777.7,394.3 L778.3,394.0 L778.8,393.5 L779.4,393.2 L779.9,393.5 L780.5,394.2 L781.0,394.3 L781.6,394.1 L782.1,394.0 L782.7,394.0 L783.2,393.6 L783.8,393.7 L784.3,394.0 L784.9,393.5 L785.4,393.2 L786.0,393.4 L786.5,393.6" stroke="#48D1CC" stroke-width="2.6"/>
</g>
<rect x="69.8" y="28.9" width="280.2" height="87.9" rx="0.6" fill="#e8e8e8" fill-opacity="0.7" stroke="#c4c4c4" stroke-width="1"/>
<rect x="78.5" y="37.5" width="13" height="13" rx="1" fill="#FFA500"/>
<text transform="translate(98.70,48.00) scale(0.697,1)" font-size="10.2" text-anchor="start" textLength="55.22" lengthAdjust="spacing">H0:VAC-LY</text>
<rect x="137.5" y="48.8" width="4.1" height="0.9" fill="#2a2a2a"/>
<text transform="translate(142.00,48.00) scale(0.680,1)" font-size="10.2" text-anchor="start" textLength="20.87" lengthAdjust="spacing">CP1</text>
<rect x="156.5" y="48.8" width="4.5" height="0.9" fill="#2a2a2a"/>
<text transform="translate(161.40,48.00) scale(0.728,1)" font-size="10.2" text-anchor="start" textLength="35.30" lengthAdjust="spacing">LIC100</text>
<rect x="187.4" y="48.8" width="4.5" height="0.9" fill="#2a2a2a"/>
<text transform="translate(192.30,48.00) scale(0.621,1)" font-size="10.2" text-anchor="start" textLength="27.21" lengthAdjust="spacing">LLCV</text>
<rect x="209.5" y="48.8" width="4.4" height="0.9" fill="#2a2a2a"/>
<text transform="translate(214.30,48.00) scale(0.608,1)" font-size="10.2" text-anchor="start" textLength="22.69" lengthAdjust="spacing">POS</text>
<rect x="228.4" y="48.8" width="4.6" height="0.9" fill="#2a2a2a"/>
<text transform="translate(233.40,48.00) scale(0.600,1)" font-size="10.2" text-anchor="start" textLength="28.00" lengthAdjust="spacing">CTRL</text>
<rect x="250.5" y="48.8" width="4.5" height="0.9" fill="#2a2a2a"/>
<text transform="translate(255.40,48.00) scale(0.627,1)" font-size="10.2" text-anchor="start" textLength="21.52" lengthAdjust="spacing">PCT</text>
<text transform="translate(271.40,48.00) scale(0.807,1)" font-size="10.2" text-anchor="start" textLength="40.88" lengthAdjust="spacing">[s-trend]</text>
<rect x="78.5" y="56.5" width="13" height="13" rx="1" fill="#FF69B4"/>
<text transform="translate(98.70,67.00) scale(0.697,1)" font-size="10.2" text-anchor="start" textLength="55.22" lengthAdjust="spacing">H0:VAC-LY</text>
<rect x="137.5" y="67.8" width="4.1" height="0.9" fill="#2a2a2a"/>
<text transform="translate(142.00,67.00) scale(0.680,1)" font-size="10.2" text-anchor="start" textLength="20.87" lengthAdjust="spacing">CP1</text>
<rect x="156.5" y="67.8" width="4.5" height="0.9" fill="#2a2a2a"/>
<text transform="translate(161.40,67.00) scale(0.709,1)" font-size="10.2" text-anchor="start" textLength="32.03" lengthAdjust="spacing">PT101</text>
<rect x="184.4" y="67.8" width="5.0" height="0.9" fill="#2a2a2a"/>
<text transform="translate(189.80,67.00) scale(0.660,1)" font-size="10.2" text-anchor="start" textLength="64.89" lengthAdjust="spacing">DISCHARGE</text>
<rect x="232.9" y="67.8" width="4.2" height="0.9" fill="#2a2a2a"/>
<text transform="translate(237.50,67.00) scale(0.578,1)" font-size="10.2" text-anchor="start" textLength="34.58" lengthAdjust="spacing">PRESS</text>
<rect x="257.8" y="67.8" width="4.7" height="0.9" fill="#2a2a2a"/>
<text transform="translate(262.90,67.00) scale(0.747,1)" font-size="10.2" text-anchor="start" textLength="54.79" lengthAdjust="spacing">PSIG*1000</text>
<text transform="translate(307.60,67.00) scale(0.807,1)" font-size="10.2" text-anchor="start" textLength="40.88" lengthAdjust="spacing">[s-trend]</text>
<rect x="78.5" y="75.5" width="13" height="13" rx="1" fill="#0000FF"/>
<text transform="translate(98.70,86.00) scale(0.697,1)" font-size="10.2" text-anchor="start" textLength="55.22" lengthAdjust="spacing">H0:VAC-LY</text>
<rect x="137.5" y="86.8" width="4.1" height="0.9" fill="#2a2a2a"/>
<text transform="translate(142.00,86.00) scale(0.680,1)" font-size="10.2" text-anchor="start" textLength="20.87" lengthAdjust="spacing">CP1</text>
<rect x="156.5" y="86.8" width="4.5" height="0.9" fill="#2a2a2a"/>
<text transform="translate(161.40,86.00) scale(0.682,1)" font-size="10.2" text-anchor="start" textLength="39.42" lengthAdjust="spacing">TE102A</text>
<rect x="188.6" y="86.8" width="4.5" height="0.9" fill="#2a2a2a"/>
<text transform="translate(193.50,86.00) scale(0.660,1)" font-size="10.2" text-anchor="start" textLength="64.89" lengthAdjust="spacing">DISCHARGE</text>
<rect x="236.6" y="86.8" width="4.6" height="0.9" fill="#2a2a2a"/>
<text transform="translate(241.60,86.00) scale(0.609,1)" font-size="10.2" text-anchor="start" textLength="30.06" lengthAdjust="spacing">TEMP</text>
<rect x="260.2" y="86.8" width="4.5" height="0.9" fill="#2a2a2a"/>
<text transform="translate(265.10,86.00) scale(0.685,1)" font-size="10.2" text-anchor="start" textLength="45.58" lengthAdjust="spacing">DEGC*-1</text>
<text transform="translate(300.40,86.00) scale(0.807,1)" font-size="10.2" text-anchor="start" textLength="40.88" lengthAdjust="spacing">[s-trend]</text>
<rect x="78.5" y="94.5" width="13" height="13" rx="1" fill="#48D1CC"/>
<text transform="translate(98.70,105.00) scale(0.697,1)" font-size="10.2" text-anchor="start" textLength="55.22" lengthAdjust="spacing">H0:VAC-LY</text>
<rect x="137.5" y="105.8" width="4.1" height="0.9" fill="#2a2a2a"/>
<text transform="translate(142.00,105.00) scale(0.680,1)" font-size="10.2" text-anchor="start" textLength="20.87" lengthAdjust="spacing">CP1</text>
<rect x="156.5" y="105.8" width="4.5" height="0.9" fill="#2a2a2a"/>
<text transform="translate(161.40,105.00) scale(0.682,1)" font-size="10.2" text-anchor="start" textLength="39.42" lengthAdjust="spacing">TE102B</text>
<rect x="188.6" y="105.8" width="4.5" height="0.9" fill="#2a2a2a"/>
<text transform="translate(193.50,105.00) scale(0.660,1)" font-size="10.2" text-anchor="start" textLength="64.89" lengthAdjust="spacing">DISCHARGE</text>
<rect x="236.6" y="105.8" width="4.6" height="0.9" fill="#2a2a2a"/>
<text transform="translate(241.60,105.00) scale(0.609,1)" font-size="10.2" text-anchor="start" textLength="30.06" lengthAdjust="spacing">TEMP</text>
<rect x="260.2" y="105.8" width="4.5" height="0.9" fill="#2a2a2a"/>
<text transform="translate(265.10,105.00) scale(0.685,1)" font-size="10.2" text-anchor="start" textLength="45.58" lengthAdjust="spacing">DEGC*-1</text>
<text transform="translate(300.40,105.00) scale(0.807,1)" font-size="10.2" text-anchor="start" textLength="40.88" lengthAdjust="spacing">[s-trend]</text>
<g clip-path="url(#pc)" stroke="#000" stroke-width="2" fill="none" stroke-dasharray="10 2">
<line x1="59.0" y1="183.5" x2="787.5" y2="183.5" stroke-dashoffset="-0.0"/>
<line x1="59.0" y1="303.5" x2="787.5" y2="303.5" stroke-dashoffset="-0.0"/>
<line x1="225.0" y1="17.0" x2="225.0" y2="513.0" stroke-dashoffset="-5.6"/>
<line x1="620.1" y1="17.0" x2="620.1" y2="513.0" stroke-dashoffset="-5.6"/>
</g>
<g stroke="#858585" stroke-width="1" shape-rendering="crispEdges">
<line x1="60.5" y1="19" x2="60.5" y2="511.7"/>
<line x1="60" y1="511.2" x2="785.6" y2="511.2"/>
</g>
<g clip-path="url(#ytc)">
<text transform="translate(55.20,29.20) scale(0.781,1)" font-size="10.2" text-anchor="end" textLength="25.61" lengthAdjust="spacing">5·10²</text>
<text transform="translate(55.20,67.20) scale(0.781,1)" font-size="10.2" text-anchor="end" textLength="25.61" lengthAdjust="spacing">4·10²</text>
<text transform="translate(55.20,117.20) scale(0.781,1)" font-size="10.2" text-anchor="end" textLength="25.61" lengthAdjust="spacing">3·10²</text>
<text transform="translate(55.20,187.10) scale(0.781,1)" font-size="10.2" text-anchor="end" textLength="25.61" lengthAdjust="spacing">2·10²</text>
<text transform="translate(54.30,324.20) scale(0.743,1)" font-size="10.2" text-anchor="end" textLength="25.70" lengthAdjust="spacing">9·10¹</text>
<text transform="translate(54.30,344.20) scale(0.743,1)" font-size="10.2" text-anchor="end" textLength="25.70" lengthAdjust="spacing">8·10¹</text>
<text transform="translate(54.30,367.00) scale(0.743,1)" font-size="10.2" text-anchor="end" textLength="25.70" lengthAdjust="spacing">7·10¹</text>
<text transform="translate(54.30,393.90) scale(0.743,1)" font-size="10.2" text-anchor="end" textLength="25.70" lengthAdjust="spacing">6·10¹</text>
<text transform="translate(54.30,425.00) scale(0.743,1)" font-size="10.2" text-anchor="end" textLength="25.70" lengthAdjust="spacing">5·10¹</text>
<text transform="translate(54.30,463.10) scale(0.743,1)" font-size="10.2" text-anchor="end" textLength="25.70" lengthAdjust="spacing">4·10¹</text>
<text transform="translate(54.30,513.10) scale(0.743,1)" font-size="10.2" text-anchor="end" textLength="25.70" lengthAdjust="spacing">3·10¹</text>
<text transform="translate(55.20,306.20) scale(0.766,1)" font-size="10.2" text-anchor="end" textLength="15.66" lengthAdjust="spacing" style="stroke-width:0.55px">10²</text>
</g>
<text transform="translate(123.70,522.70) scale(0.767,1)" font-size="10.2" text-anchor="middle" textLength="61.84" lengthAdjust="spacing">Mar 16 2024</text>
<text transform="translate(124.20,534.10) scale(0.765,1)" font-size="10.2" text-anchor="middle" textLength="67.97" lengthAdjust="spacing">09:56:58 PDT</text>
<text transform="translate(288.70,522.70) scale(0.767,1)" font-size="10.2" text-anchor="middle" textLength="61.84" lengthAdjust="spacing">Mar 16 2024</text>
<text transform="translate(289.20,534.10) scale(0.765,1)" font-size="10.2" text-anchor="middle" textLength="67.97" lengthAdjust="spacing">10:01:58 PDT</text>
<text transform="translate(453.70,522.70) scale(0.767,1)" font-size="10.2" text-anchor="middle" textLength="61.84" lengthAdjust="spacing">Mar 16 2024</text>
<text transform="translate(454.20,534.10) scale(0.765,1)" font-size="10.2" text-anchor="middle" textLength="67.97" lengthAdjust="spacing">10:06:58 PDT</text>
<text transform="translate(618.70,522.70) scale(0.767,1)" font-size="10.2" text-anchor="middle" textLength="61.84" lengthAdjust="spacing">Mar 16 2024</text>
<text transform="translate(619.20,534.10) scale(0.774,1)" font-size="10.2" text-anchor="middle" textLength="67.15" lengthAdjust="spacing">10:11:58 PDT</text>
<text transform="translate(784.70,522.70) scale(0.767,1)" font-size="10.2" text-anchor="middle" textLength="61.84" lengthAdjust="spacing">Mar 16 2024</text>
<text transform="translate(785.20,534.10) scale(0.765,1)" font-size="10.2" text-anchor="middle" textLength="67.97" lengthAdjust="spacing">10:16:58 PDT</text>
<text transform="translate(63.20,196.80) scale(0.766,1)" font-size="10.2" text-anchor="start" textLength="37.74" lengthAdjust="spacing">Y2=200</text>
<text transform="translate(63.20,296.00) scale(0.766,1)" font-size="10.2" text-anchor="start" textLength="37.74" lengthAdjust="spacing">Y1=100</text>
<text transform="translate(229.30,504.90) scale(0.767,1)" font-size="10.2" text-anchor="start" textLength="64.94" lengthAdjust="spacing">T1=-16m,58s</text>
<text transform="translate(586.40,504.90) scale(0.758,1)" font-size="10.2" text-anchor="start" textLength="37.74" lengthAdjust="spacing">T2=-5m</text>
<text transform="translate(383.90,41.00) scale(0.668,1)" font-size="10.2" text-anchor="start" textLength="20.05" lengthAdjust="spacing">ΔT=</text>
<text transform="translate(400.30,34.10) scale(0.792,1)" font-size="10.2" text-anchor="start" textLength="41.02" lengthAdjust="spacing">11m,58s</text>
<text transform="translate(400.30,47.80) scale(0.780,1)" font-size="10.2" text-anchor="start" textLength="74.57" lengthAdjust="spacing">0.00139276 Hz</text>
<text transform="translate(750.90,245.70) scale(0.753,1)" font-size="10.2" text-anchor="start" textLength="38.92" lengthAdjust="spacing">ΔY=100</text>
<text transform="translate(27,266) rotate(-90) scale(0.950,1)" font-size="9.0" text-anchor="middle" textLength="27.37" lengthAdjust="spacing">counts</text>
</g>
</svg></body></html>
